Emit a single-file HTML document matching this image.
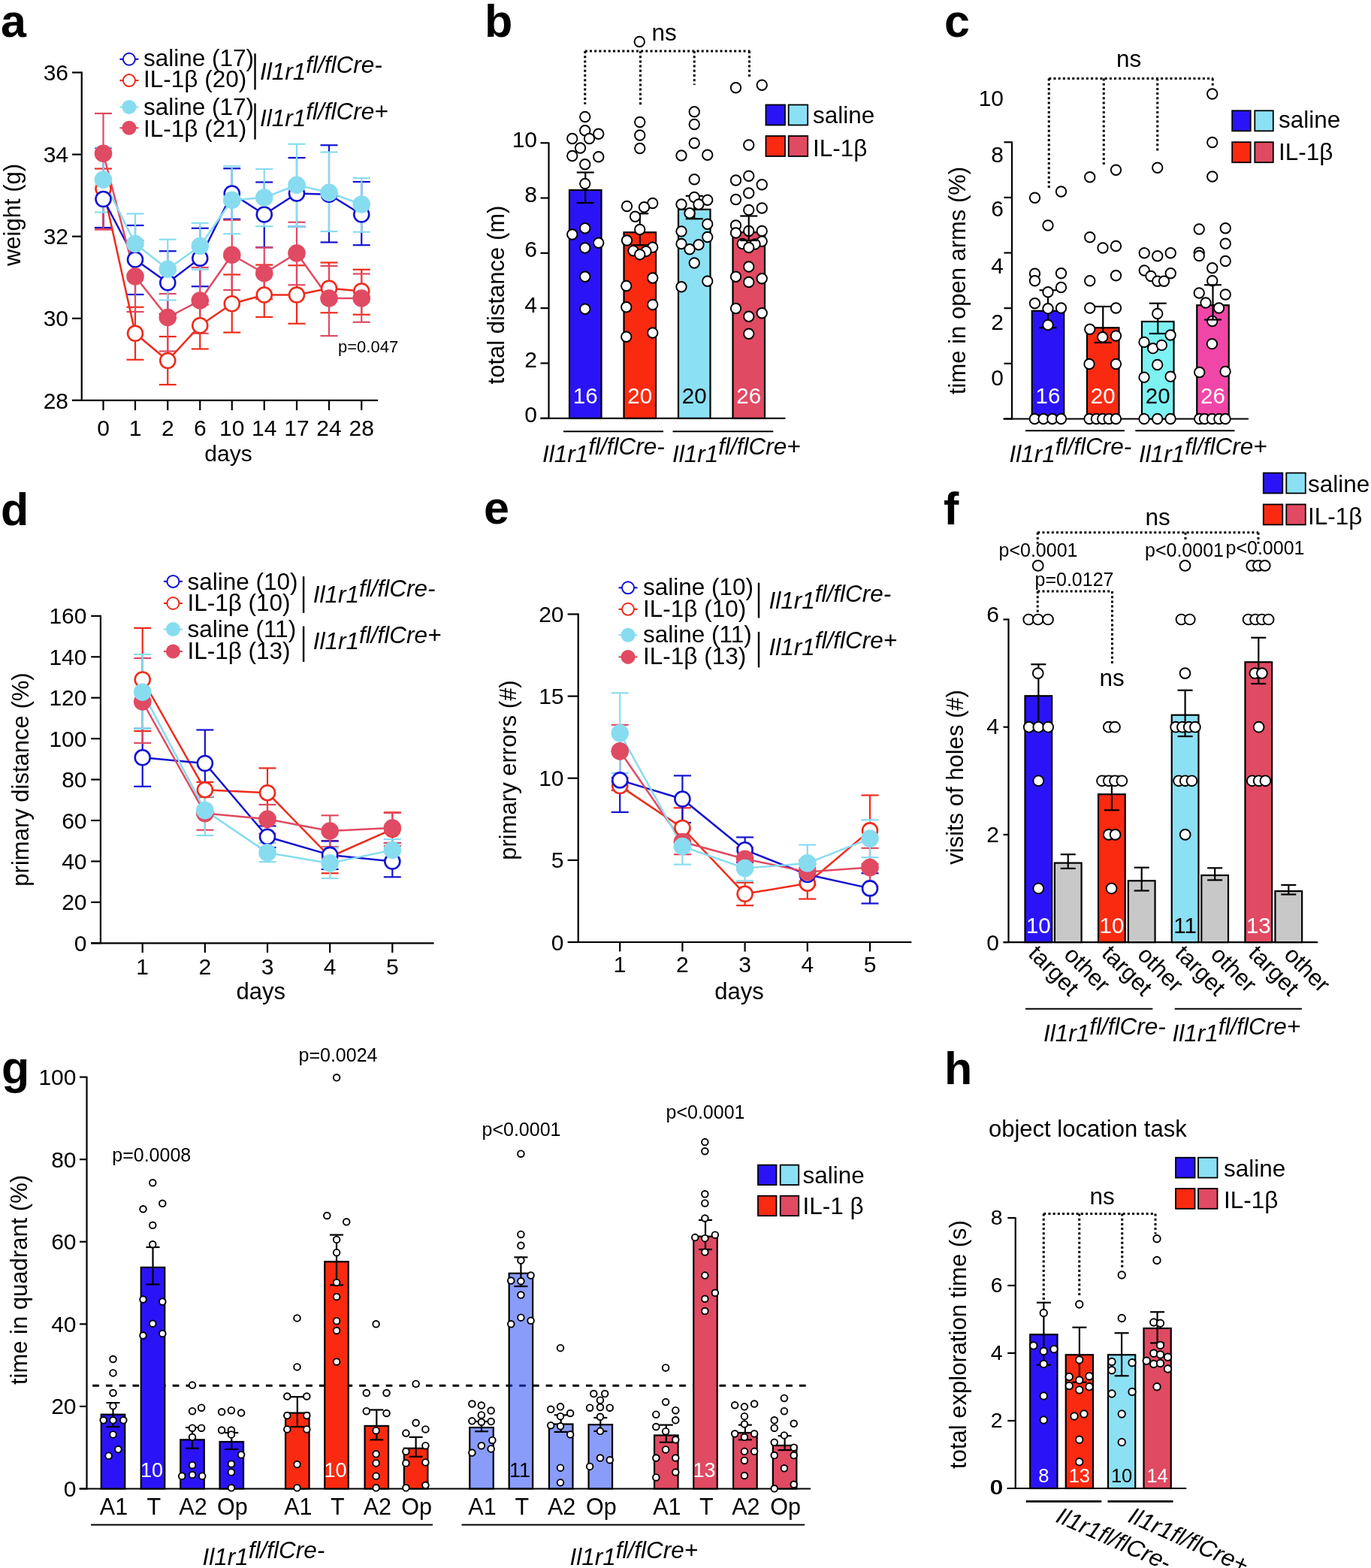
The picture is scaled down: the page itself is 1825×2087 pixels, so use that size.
<!DOCTYPE html>
<html><head><meta charset="utf-8"><title>figure</title>
<style>
html,body{margin:0;padding:0;background:#fff;}
svg{display:block;}
text{font-family:"Liberation Sans",Arial,Helvetica,sans-serif;}
</style></head><body>
<svg width="1825" height="2087" viewBox="0 0 1825 2087">
<rect width="1825" height="2087" fill="#fff"/>
<text x="1" y="48.5" font-size="61" font-weight="bold">a</text>
<line x1="108.75" y1="95.5" x2="108.75" y2="534" stroke="#000" stroke-width="2.2"/>
<line x1="96" y1="532.9" x2="503" y2="532.9" stroke="#000" stroke-width="2.2"/>
<line x1="96" y1="96.5" x2="108.75" y2="96.5" stroke="#000" stroke-width="2.2"/>
<text x="91" y="107.1" font-size="30" text-anchor="end">36</text>
<line x1="96" y1="205.6" x2="108.75" y2="205.6" stroke="#000" stroke-width="2.2"/>
<text x="91" y="216.2" font-size="30" text-anchor="end">34</text>
<line x1="96" y1="314.7" x2="108.75" y2="314.7" stroke="#000" stroke-width="2.2"/>
<text x="91" y="325.3" font-size="30" text-anchor="end">32</text>
<line x1="96" y1="423.8" x2="108.75" y2="423.8" stroke="#000" stroke-width="2.2"/>
<text x="91" y="434.4" font-size="30" text-anchor="end">30</text>
<line x1="96" y1="532.9" x2="108.75" y2="532.9" stroke="#000" stroke-width="2.2"/>
<text x="91" y="543.5" font-size="30" text-anchor="end">28</text>
<line x1="137.5" y1="532.9" x2="137.5" y2="546" stroke="#000" stroke-width="2.2"/>
<text x="137.5" y="580" font-size="30" text-anchor="middle">0</text>
<line x1="180" y1="532.9" x2="180" y2="546" stroke="#000" stroke-width="2.2"/>
<text x="180" y="580" font-size="30" text-anchor="middle">1</text>
<line x1="223.25" y1="532.9" x2="223.25" y2="546" stroke="#000" stroke-width="2.2"/>
<text x="223.25" y="580" font-size="30" text-anchor="middle">2</text>
<line x1="266.25" y1="532.9" x2="266.25" y2="546" stroke="#000" stroke-width="2.2"/>
<text x="266.25" y="580" font-size="30" text-anchor="middle">6</text>
<line x1="308.75" y1="532.9" x2="308.75" y2="546" stroke="#000" stroke-width="2.2"/>
<text x="308.75" y="580" font-size="30" text-anchor="middle">10</text>
<line x1="351.75" y1="532.9" x2="351.75" y2="546" stroke="#000" stroke-width="2.2"/>
<text x="351.75" y="580" font-size="30" text-anchor="middle">14</text>
<line x1="395" y1="532.9" x2="395" y2="546" stroke="#000" stroke-width="2.2"/>
<text x="395" y="580" font-size="30" text-anchor="middle">17</text>
<line x1="438" y1="532.9" x2="438" y2="546" stroke="#000" stroke-width="2.2"/>
<text x="438" y="580" font-size="30" text-anchor="middle">24</text>
<line x1="481.25" y1="532.9" x2="481.25" y2="546" stroke="#000" stroke-width="2.2"/>
<text x="481.25" y="580" font-size="30" text-anchor="middle">28</text>
<text x="304" y="614" font-size="30" text-anchor="middle">days</text>
<text x="27" y="286" font-size="31" text-anchor="middle" transform="rotate(-90 27 286)">weight (g)</text>
<text x="450" y="468.75" font-size="22">p=0.047</text>
<line x1="137.5" y1="224.5" x2="137.5" y2="305.5" stroke="#ee2c1c" stroke-width="2.2"/>
<line x1="126" y1="224.5" x2="149" y2="224.5" stroke="#ee2c1c" stroke-width="2.2"/>
<line x1="126" y1="305.5" x2="149" y2="305.5" stroke="#ee2c1c" stroke-width="2.2"/>
<line x1="180" y1="408.75" x2="180" y2="478.75" stroke="#ee2c1c" stroke-width="2.2"/>
<line x1="168.5" y1="408.75" x2="191.5" y2="408.75" stroke="#ee2c1c" stroke-width="2.2"/>
<line x1="168.5" y1="478.75" x2="191.5" y2="478.75" stroke="#ee2c1c" stroke-width="2.2"/>
<line x1="223.25" y1="448" x2="223.25" y2="512" stroke="#ee2c1c" stroke-width="2.2"/>
<line x1="211.75" y1="448" x2="234.75" y2="448" stroke="#ee2c1c" stroke-width="2.2"/>
<line x1="211.75" y1="512" x2="234.75" y2="512" stroke="#ee2c1c" stroke-width="2.2"/>
<line x1="266.25" y1="405.5" x2="266.25" y2="464.5" stroke="#ee2c1c" stroke-width="2.2"/>
<line x1="254.75" y1="405.5" x2="277.75" y2="405.5" stroke="#ee2c1c" stroke-width="2.2"/>
<line x1="254.75" y1="464.5" x2="277.75" y2="464.5" stroke="#ee2c1c" stroke-width="2.2"/>
<line x1="308.75" y1="365.5" x2="308.75" y2="442.5" stroke="#ee2c1c" stroke-width="2.2"/>
<line x1="297.25" y1="365.5" x2="320.25" y2="365.5" stroke="#ee2c1c" stroke-width="2.2"/>
<line x1="297.25" y1="442.5" x2="320.25" y2="442.5" stroke="#ee2c1c" stroke-width="2.2"/>
<line x1="351.75" y1="352.5" x2="351.75" y2="422" stroke="#ee2c1c" stroke-width="2.2"/>
<line x1="340.25" y1="352.5" x2="363.25" y2="352.5" stroke="#ee2c1c" stroke-width="2.2"/>
<line x1="340.25" y1="422" x2="363.25" y2="422" stroke="#ee2c1c" stroke-width="2.2"/>
<line x1="395" y1="353.25" x2="395" y2="430.75" stroke="#ee2c1c" stroke-width="2.2"/>
<line x1="383.5" y1="353.25" x2="406.5" y2="353.25" stroke="#ee2c1c" stroke-width="2.2"/>
<line x1="383.5" y1="430.75" x2="406.5" y2="430.75" stroke="#ee2c1c" stroke-width="2.2"/>
<line x1="438" y1="349.5" x2="438" y2="416.25" stroke="#ee2c1c" stroke-width="2.2"/>
<line x1="426.5" y1="349.5" x2="449.5" y2="349.5" stroke="#ee2c1c" stroke-width="2.2"/>
<line x1="426.5" y1="416.25" x2="449.5" y2="416.25" stroke="#ee2c1c" stroke-width="2.2"/>
<line x1="481.25" y1="358.75" x2="481.25" y2="418.75" stroke="#ee2c1c" stroke-width="2.2"/>
<line x1="469.75" y1="358.75" x2="492.75" y2="358.75" stroke="#ee2c1c" stroke-width="2.2"/>
<line x1="469.75" y1="418.75" x2="492.75" y2="418.75" stroke="#ee2c1c" stroke-width="2.2"/>
<line x1="137.5" y1="197" x2="137.5" y2="303" stroke="#1212d2" stroke-width="2.2"/>
<line x1="126" y1="197" x2="149" y2="197" stroke="#1212d2" stroke-width="2.2"/>
<line x1="126" y1="303" x2="149" y2="303" stroke="#1212d2" stroke-width="2.2"/>
<line x1="180" y1="300" x2="180" y2="392" stroke="#1212d2" stroke-width="2.2"/>
<line x1="168.5" y1="300" x2="191.5" y2="300" stroke="#1212d2" stroke-width="2.2"/>
<line x1="168.5" y1="392" x2="191.5" y2="392" stroke="#1212d2" stroke-width="2.2"/>
<line x1="223.25" y1="334.25" x2="223.25" y2="418" stroke="#1212d2" stroke-width="2.2"/>
<line x1="211.75" y1="334.25" x2="234.75" y2="334.25" stroke="#1212d2" stroke-width="2.2"/>
<line x1="211.75" y1="418" x2="234.75" y2="418" stroke="#1212d2" stroke-width="2.2"/>
<line x1="266.25" y1="303.75" x2="266.25" y2="381.25" stroke="#1212d2" stroke-width="2.2"/>
<line x1="254.75" y1="303.75" x2="277.75" y2="303.75" stroke="#1212d2" stroke-width="2.2"/>
<line x1="254.75" y1="381.25" x2="277.75" y2="381.25" stroke="#1212d2" stroke-width="2.2"/>
<line x1="308.75" y1="224.25" x2="308.75" y2="291.75" stroke="#1212d2" stroke-width="2.2"/>
<line x1="297.25" y1="224.25" x2="320.25" y2="224.25" stroke="#1212d2" stroke-width="2.2"/>
<line x1="297.25" y1="291.75" x2="320.25" y2="291.75" stroke="#1212d2" stroke-width="2.2"/>
<line x1="351.75" y1="242.5" x2="351.75" y2="329.25" stroke="#1212d2" stroke-width="2.2"/>
<line x1="340.25" y1="242.5" x2="363.25" y2="242.5" stroke="#1212d2" stroke-width="2.2"/>
<line x1="340.25" y1="329.25" x2="363.25" y2="329.25" stroke="#1212d2" stroke-width="2.2"/>
<line x1="395" y1="210" x2="395" y2="301.75" stroke="#1212d2" stroke-width="2.2"/>
<line x1="383.5" y1="210" x2="406.5" y2="210" stroke="#1212d2" stroke-width="2.2"/>
<line x1="383.5" y1="301.75" x2="406.5" y2="301.75" stroke="#1212d2" stroke-width="2.2"/>
<line x1="438" y1="193.25" x2="438" y2="322.5" stroke="#1212d2" stroke-width="2.2"/>
<line x1="426.5" y1="193.25" x2="449.5" y2="193.25" stroke="#1212d2" stroke-width="2.2"/>
<line x1="426.5" y1="322.5" x2="449.5" y2="322.5" stroke="#1212d2" stroke-width="2.2"/>
<line x1="481.25" y1="242" x2="481.25" y2="326.25" stroke="#1212d2" stroke-width="2.2"/>
<line x1="469.75" y1="242" x2="492.75" y2="242" stroke="#1212d2" stroke-width="2.2"/>
<line x1="469.75" y1="326.25" x2="492.75" y2="326.25" stroke="#1212d2" stroke-width="2.2"/>
<line x1="137.5" y1="151" x2="137.5" y2="305" stroke="#e04a62" stroke-width="2.2"/>
<line x1="126" y1="151" x2="149" y2="151" stroke="#e04a62" stroke-width="2.2"/>
<line x1="126" y1="305" x2="149" y2="305" stroke="#e04a62" stroke-width="2.2"/>
<line x1="180" y1="320" x2="180" y2="415" stroke="#e04a62" stroke-width="2.2"/>
<line x1="168.5" y1="320" x2="191.5" y2="320" stroke="#e04a62" stroke-width="2.2"/>
<line x1="168.5" y1="415" x2="191.5" y2="415" stroke="#e04a62" stroke-width="2.2"/>
<line x1="223.25" y1="391" x2="223.25" y2="467.5" stroke="#e04a62" stroke-width="2.2"/>
<line x1="211.75" y1="391" x2="234.75" y2="391" stroke="#e04a62" stroke-width="2.2"/>
<line x1="211.75" y1="467.5" x2="234.75" y2="467.5" stroke="#e04a62" stroke-width="2.2"/>
<line x1="266.25" y1="356" x2="266.25" y2="443.75" stroke="#e04a62" stroke-width="2.2"/>
<line x1="254.75" y1="356" x2="277.75" y2="356" stroke="#e04a62" stroke-width="2.2"/>
<line x1="254.75" y1="443.75" x2="277.75" y2="443.75" stroke="#e04a62" stroke-width="2.2"/>
<line x1="308.75" y1="293" x2="308.75" y2="386" stroke="#e04a62" stroke-width="2.2"/>
<line x1="297.25" y1="293" x2="320.25" y2="293" stroke="#e04a62" stroke-width="2.2"/>
<line x1="297.25" y1="386" x2="320.25" y2="386" stroke="#e04a62" stroke-width="2.2"/>
<line x1="351.75" y1="329.5" x2="351.75" y2="398" stroke="#e04a62" stroke-width="2.2"/>
<line x1="340.25" y1="329.5" x2="363.25" y2="329.5" stroke="#e04a62" stroke-width="2.2"/>
<line x1="340.25" y1="398" x2="363.25" y2="398" stroke="#e04a62" stroke-width="2.2"/>
<line x1="395" y1="295.75" x2="395" y2="379.25" stroke="#e04a62" stroke-width="2.2"/>
<line x1="383.5" y1="295.75" x2="406.5" y2="295.75" stroke="#e04a62" stroke-width="2.2"/>
<line x1="383.5" y1="379.25" x2="406.5" y2="379.25" stroke="#e04a62" stroke-width="2.2"/>
<line x1="438" y1="354" x2="438" y2="447" stroke="#e04a62" stroke-width="2.2"/>
<line x1="426.5" y1="354" x2="449.5" y2="354" stroke="#e04a62" stroke-width="2.2"/>
<line x1="426.5" y1="447" x2="449.5" y2="447" stroke="#e04a62" stroke-width="2.2"/>
<line x1="481.25" y1="364.5" x2="481.25" y2="428.75" stroke="#e04a62" stroke-width="2.2"/>
<line x1="469.75" y1="364.5" x2="492.75" y2="364.5" stroke="#e04a62" stroke-width="2.2"/>
<line x1="469.75" y1="428.75" x2="492.75" y2="428.75" stroke="#e04a62" stroke-width="2.2"/>
<line x1="137.5" y1="196.25" x2="137.5" y2="282.5" stroke="#88dcf0" stroke-width="2.2"/>
<line x1="126" y1="196.25" x2="149" y2="196.25" stroke="#88dcf0" stroke-width="2.2"/>
<line x1="126" y1="282.5" x2="149" y2="282.5" stroke="#88dcf0" stroke-width="2.2"/>
<line x1="180" y1="284.5" x2="180" y2="365" stroke="#88dcf0" stroke-width="2.2"/>
<line x1="168.5" y1="284.5" x2="191.5" y2="284.5" stroke="#88dcf0" stroke-width="2.2"/>
<line x1="168.5" y1="365" x2="191.5" y2="365" stroke="#88dcf0" stroke-width="2.2"/>
<line x1="223.25" y1="318.75" x2="223.25" y2="399.5" stroke="#88dcf0" stroke-width="2.2"/>
<line x1="211.75" y1="318.75" x2="234.75" y2="318.75" stroke="#88dcf0" stroke-width="2.2"/>
<line x1="211.75" y1="399.5" x2="234.75" y2="399.5" stroke="#88dcf0" stroke-width="2.2"/>
<line x1="266.25" y1="296.75" x2="266.25" y2="358.75" stroke="#88dcf0" stroke-width="2.2"/>
<line x1="254.75" y1="296.75" x2="277.75" y2="296.75" stroke="#88dcf0" stroke-width="2.2"/>
<line x1="254.75" y1="358.75" x2="277.75" y2="358.75" stroke="#88dcf0" stroke-width="2.2"/>
<line x1="308.75" y1="221.25" x2="308.75" y2="311.25" stroke="#88dcf0" stroke-width="2.2"/>
<line x1="297.25" y1="221.25" x2="320.25" y2="221.25" stroke="#88dcf0" stroke-width="2.2"/>
<line x1="297.25" y1="311.25" x2="320.25" y2="311.25" stroke="#88dcf0" stroke-width="2.2"/>
<line x1="351.75" y1="225" x2="351.75" y2="301.25" stroke="#88dcf0" stroke-width="2.2"/>
<line x1="340.25" y1="225" x2="363.25" y2="225" stroke="#88dcf0" stroke-width="2.2"/>
<line x1="340.25" y1="301.25" x2="363.25" y2="301.25" stroke="#88dcf0" stroke-width="2.2"/>
<line x1="395" y1="191.75" x2="395" y2="301.75" stroke="#88dcf0" stroke-width="2.2"/>
<line x1="383.5" y1="191.75" x2="406.5" y2="191.75" stroke="#88dcf0" stroke-width="2.2"/>
<line x1="383.5" y1="301.75" x2="406.5" y2="301.75" stroke="#88dcf0" stroke-width="2.2"/>
<line x1="438" y1="202.5" x2="438" y2="308" stroke="#88dcf0" stroke-width="2.2"/>
<line x1="426.5" y1="202.5" x2="449.5" y2="202.5" stroke="#88dcf0" stroke-width="2.2"/>
<line x1="426.5" y1="308" x2="449.5" y2="308" stroke="#88dcf0" stroke-width="2.2"/>
<line x1="481.25" y1="237" x2="481.25" y2="308.75" stroke="#88dcf0" stroke-width="2.2"/>
<line x1="469.75" y1="237" x2="492.75" y2="237" stroke="#88dcf0" stroke-width="2.2"/>
<line x1="469.75" y1="308.75" x2="492.75" y2="308.75" stroke="#88dcf0" stroke-width="2.2"/>
<polyline points="137.5,251.25 180,443.75 223.25,480 266.25,433.25 308.75,404.25 351.75,392.5 395,392.5 438,383.75 481.25,387.5" fill="none" stroke="#ee2c1c" stroke-width="2.5" stroke-linejoin="round"/>
<polyline points="137.5,265 180,345.5 223.25,376.25 266.25,343.75 308.75,257.5 351.75,285.5 395,257.5 438,258.75 481.25,285.5" fill="none" stroke="#1212d2" stroke-width="2.5" stroke-linejoin="round"/>
<polyline points="137.5,204.25 180,368 223.25,422.5 266.25,400 308.75,339.25 351.75,363.75 395,337 438,397 481.25,397" fill="none" stroke="#e04a62" stroke-width="2.5" stroke-linejoin="round"/>
<polyline points="137.5,239.25 180,324.5 223.25,358.25 266.25,327.5 308.75,266.25 351.75,263 395,246.25 438,256.25 481.25,272" fill="none" stroke="#88dcf0" stroke-width="2.5" stroke-linejoin="round"/>
<circle cx="137.5" cy="251.25" r="10" fill="#fff" stroke="#ee2c1c" stroke-width="2.6"/>
<circle cx="180" cy="443.75" r="10" fill="#fff" stroke="#ee2c1c" stroke-width="2.6"/>
<circle cx="223.25" cy="480" r="10" fill="#fff" stroke="#ee2c1c" stroke-width="2.6"/>
<circle cx="266.25" cy="433.25" r="10" fill="#fff" stroke="#ee2c1c" stroke-width="2.6"/>
<circle cx="308.75" cy="404.25" r="10" fill="#fff" stroke="#ee2c1c" stroke-width="2.6"/>
<circle cx="351.75" cy="392.5" r="10" fill="#fff" stroke="#ee2c1c" stroke-width="2.6"/>
<circle cx="395" cy="392.5" r="10" fill="#fff" stroke="#ee2c1c" stroke-width="2.6"/>
<circle cx="438" cy="383.75" r="10" fill="#fff" stroke="#ee2c1c" stroke-width="2.6"/>
<circle cx="481.25" cy="387.5" r="10" fill="#fff" stroke="#ee2c1c" stroke-width="2.6"/>
<circle cx="137.5" cy="265" r="10" fill="#fff" stroke="#1212d2" stroke-width="2.6"/>
<circle cx="180" cy="345.5" r="10" fill="#fff" stroke="#1212d2" stroke-width="2.6"/>
<circle cx="223.25" cy="376.25" r="10" fill="#fff" stroke="#1212d2" stroke-width="2.6"/>
<circle cx="266.25" cy="343.75" r="10" fill="#fff" stroke="#1212d2" stroke-width="2.6"/>
<circle cx="308.75" cy="257.5" r="10" fill="#fff" stroke="#1212d2" stroke-width="2.6"/>
<circle cx="351.75" cy="285.5" r="10" fill="#fff" stroke="#1212d2" stroke-width="2.6"/>
<circle cx="395" cy="257.5" r="10" fill="#fff" stroke="#1212d2" stroke-width="2.6"/>
<circle cx="438" cy="258.75" r="10" fill="#fff" stroke="#1212d2" stroke-width="2.6"/>
<circle cx="481.25" cy="285.5" r="10" fill="#fff" stroke="#1212d2" stroke-width="2.6"/>
<circle cx="137.5" cy="204.25" r="11.8" fill="#e04a62"/>
<circle cx="180" cy="368" r="11.8" fill="#e04a62"/>
<circle cx="223.25" cy="422.5" r="11.8" fill="#e04a62"/>
<circle cx="266.25" cy="400" r="11.8" fill="#e04a62"/>
<circle cx="308.75" cy="339.25" r="11.8" fill="#e04a62"/>
<circle cx="351.75" cy="363.75" r="11.8" fill="#e04a62"/>
<circle cx="395" cy="337" r="11.8" fill="#e04a62"/>
<circle cx="438" cy="397" r="11.8" fill="#e04a62"/>
<circle cx="481.25" cy="397" r="11.8" fill="#e04a62"/>
<circle cx="137.5" cy="239.25" r="11.8" fill="#88dcf0"/>
<circle cx="180" cy="324.5" r="11.8" fill="#88dcf0"/>
<circle cx="223.25" cy="358.25" r="11.8" fill="#88dcf0"/>
<circle cx="266.25" cy="327.5" r="11.8" fill="#88dcf0"/>
<circle cx="308.75" cy="266.25" r="11.8" fill="#88dcf0"/>
<circle cx="351.75" cy="263" r="11.8" fill="#88dcf0"/>
<circle cx="395" cy="246.25" r="11.8" fill="#88dcf0"/>
<circle cx="438" cy="256.25" r="11.8" fill="#88dcf0"/>
<circle cx="481.25" cy="272" r="11.8" fill="#88dcf0"/>
<line x1="159.4" y1="78.75" x2="184.4" y2="78.75" stroke="#1212d2" stroke-width="2.2"/>
<circle cx="171.9" cy="78.75" r="8" fill="#fff" stroke="#1212d2" stroke-width="2"/>
<text x="191" y="87.5" font-size="31.5">saline (17)</text>
<line x1="159.4" y1="107.1" x2="184.4" y2="107.1" stroke="#ee2c1c" stroke-width="2.2"/>
<circle cx="171.9" cy="107.1" r="8" fill="#fff" stroke="#ee2c1c" stroke-width="2"/>
<text x="191" y="116.25" font-size="31.5">IL-1β (20)</text>
<line x1="159.4" y1="142.5" x2="184.4" y2="142.5" stroke="#88dcf0" stroke-width="2.2"/>
<circle cx="171.9" cy="142.5" r="9.5" fill="#88dcf0"/>
<text x="191" y="152.5" font-size="31.5">saline (17)</text>
<line x1="159.4" y1="170.25" x2="184.4" y2="170.25" stroke="#e04a62" stroke-width="2.2"/>
<circle cx="171.9" cy="170.25" r="9.5" fill="#e04a62"/>
<text x="191" y="181.5" font-size="31.5">IL-1β (21)</text>
<line x1="339.5" y1="71.25" x2="339.5" y2="119.4" stroke="#000" stroke-width="2.4"/>
<line x1="339.5" y1="137.5" x2="339.5" y2="185.6" stroke="#000" stroke-width="2.4"/>
<text x="346" y="106" font-size="31.5" font-style="italic">Il1r1<tspan dy="-9.5" font-size="31.5">fl/flCre-</tspan></text>
<text x="346" y="168.2" font-size="31.5" font-style="italic">Il1r1<tspan dy="-9.5" font-size="31.5">fl/flCre+</tspan></text>
<text x="645" y="48.5" font-size="61" font-weight="bold">b</text>
<line x1="730.5" y1="189.5" x2="730.5" y2="557.75" stroke="#000" stroke-width="2.2"/>
<line x1="719.5" y1="556.75" x2="1045.5" y2="556.75" stroke="#000" stroke-width="2.2"/>
<line x1="719.5" y1="556.75" x2="730.5" y2="556.75" stroke="#000" stroke-width="2.2"/>
<text x="715" y="562.25" font-size="30" text-anchor="end">0</text>
<line x1="719.5" y1="483.45" x2="730.5" y2="483.45" stroke="#000" stroke-width="2.2"/>
<text x="715" y="488.95" font-size="30" text-anchor="end">2</text>
<line x1="719.5" y1="410.15" x2="730.5" y2="410.15" stroke="#000" stroke-width="2.2"/>
<text x="715" y="415.65" font-size="30" text-anchor="end">4</text>
<line x1="719.5" y1="336.85" x2="730.5" y2="336.85" stroke="#000" stroke-width="2.2"/>
<text x="715" y="342.35" font-size="30" text-anchor="end">6</text>
<line x1="719.5" y1="263.55" x2="730.5" y2="263.55" stroke="#000" stroke-width="2.2"/>
<text x="715" y="269.05" font-size="30" text-anchor="end">8</text>
<line x1="719.5" y1="190.25" x2="730.5" y2="190.25" stroke="#000" stroke-width="2.2"/>
<text x="715" y="195.75" font-size="30" text-anchor="end">10</text>
<text x="671" y="392.5" font-size="31" text-anchor="middle" transform="rotate(-90 671 392.5)">total distance (m)</text>
<rect x="758" y="253" width="42.5" height="303.75" fill="#2a14f7" stroke="#000" stroke-width="2.2"/>
<rect x="830.5" y="309.25" width="42.5" height="247.5" fill="#fa2a10" stroke="#000" stroke-width="2.2"/>
<rect x="903" y="278.75" width="42.5" height="278" fill="#8ce0f4" stroke="#000" stroke-width="2.2"/>
<rect x="975.5" y="309.25" width="42.5" height="247.5" fill="#e04a62" stroke="#000" stroke-width="2.2"/>
<line x1="779.25" y1="229.5" x2="779.25" y2="270" stroke="#000" stroke-width="2.2"/>
<line x1="767.75" y1="229.5" x2="790.75" y2="229.5" stroke="#000" stroke-width="2.2"/>
<line x1="767.75" y1="270" x2="790.75" y2="270" stroke="#000" stroke-width="2.2"/>
<line x1="851.75" y1="284.25" x2="851.75" y2="326.25" stroke="#000" stroke-width="2.2"/>
<line x1="840.25" y1="284.25" x2="863.25" y2="284.25" stroke="#000" stroke-width="2.2"/>
<line x1="840.25" y1="326.25" x2="863.25" y2="326.25" stroke="#000" stroke-width="2.2"/>
<line x1="924.25" y1="260.75" x2="924.25" y2="291.25" stroke="#000" stroke-width="2.2"/>
<line x1="912.75" y1="260.75" x2="935.75" y2="260.75" stroke="#000" stroke-width="2.2"/>
<line x1="912.75" y1="291.25" x2="935.75" y2="291.25" stroke="#000" stroke-width="2.2"/>
<circle cx="778.75" cy="155.5" r="6.7" fill="#fff" stroke="#000" stroke-width="1.9"/>
<circle cx="778.75" cy="173.75" r="6.7" fill="#fff" stroke="#000" stroke-width="1.9"/>
<circle cx="761.75" cy="184.5" r="6.7" fill="#fff" stroke="#000" stroke-width="1.9"/>
<circle cx="784.5" cy="184.5" r="6.7" fill="#fff" stroke="#000" stroke-width="1.9"/>
<circle cx="796.75" cy="178.25" r="6.7" fill="#fff" stroke="#000" stroke-width="1.9"/>
<circle cx="772.5" cy="197" r="6.7" fill="#fff" stroke="#000" stroke-width="1.9"/>
<circle cx="761.75" cy="207.5" r="6.7" fill="#fff" stroke="#000" stroke-width="1.9"/>
<circle cx="796.75" cy="208.75" r="6.7" fill="#fff" stroke="#000" stroke-width="1.9"/>
<circle cx="778.75" cy="218.75" r="6.7" fill="#fff" stroke="#000" stroke-width="1.9"/>
<circle cx="778.75" cy="244.5" r="6.7" fill="#fff" stroke="#000" stroke-width="1.9"/>
<circle cx="778.75" cy="303.75" r="6.7" fill="#fff" stroke="#000" stroke-width="1.9"/>
<circle cx="761.75" cy="312" r="6.7" fill="#fff" stroke="#000" stroke-width="1.9"/>
<circle cx="796.75" cy="323.25" r="6.7" fill="#fff" stroke="#000" stroke-width="1.9"/>
<circle cx="778.75" cy="330" r="6.7" fill="#fff" stroke="#000" stroke-width="1.9"/>
<circle cx="778.75" cy="368.25" r="6.7" fill="#fff" stroke="#000" stroke-width="1.9"/>
<circle cx="778.75" cy="411.25" r="6.7" fill="#fff" stroke="#000" stroke-width="1.9"/>
<circle cx="851.25" cy="55.5" r="6.7" fill="#fff" stroke="#000" stroke-width="1.9"/>
<circle cx="851.75" cy="162.5" r="6.7" fill="#fff" stroke="#000" stroke-width="1.9"/>
<circle cx="851.75" cy="180" r="6.7" fill="#fff" stroke="#000" stroke-width="1.9"/>
<circle cx="851.75" cy="197.5" r="6.7" fill="#fff" stroke="#000" stroke-width="1.9"/>
<circle cx="834.5" cy="274.5" r="6.7" fill="#fff" stroke="#000" stroke-width="1.9"/>
<circle cx="868.75" cy="270.5" r="6.7" fill="#fff" stroke="#000" stroke-width="1.9"/>
<circle cx="857.5" cy="275.75" r="6.7" fill="#fff" stroke="#000" stroke-width="1.9"/>
<circle cx="845.5" cy="288.25" r="6.7" fill="#fff" stroke="#000" stroke-width="1.9"/>
<circle cx="851.75" cy="305.5" r="6.7" fill="#fff" stroke="#000" stroke-width="1.9"/>
<circle cx="834.5" cy="320" r="6.7" fill="#fff" stroke="#000" stroke-width="1.9"/>
<circle cx="868.75" cy="329.25" r="6.7" fill="#fff" stroke="#000" stroke-width="1.9"/>
<circle cx="843" cy="333.75" r="6.7" fill="#fff" stroke="#000" stroke-width="1.9"/>
<circle cx="860" cy="334.5" r="6.7" fill="#fff" stroke="#000" stroke-width="1.9"/>
<circle cx="851.75" cy="338.75" r="6.7" fill="#fff" stroke="#000" stroke-width="1.9"/>
<circle cx="833.75" cy="380.5" r="6.7" fill="#fff" stroke="#000" stroke-width="1.9"/>
<circle cx="868.75" cy="370" r="6.7" fill="#fff" stroke="#000" stroke-width="1.9"/>
<circle cx="833.75" cy="408.75" r="6.7" fill="#fff" stroke="#000" stroke-width="1.9"/>
<circle cx="868.75" cy="405.5" r="6.7" fill="#fff" stroke="#000" stroke-width="1.9"/>
<circle cx="833.75" cy="448.25" r="6.7" fill="#fff" stroke="#000" stroke-width="1.9"/>
<circle cx="868.75" cy="443" r="6.7" fill="#fff" stroke="#000" stroke-width="1.9"/>
<circle cx="924.25" cy="148.75" r="6.7" fill="#fff" stroke="#000" stroke-width="1.9"/>
<circle cx="924.25" cy="165.5" r="6.7" fill="#fff" stroke="#000" stroke-width="1.9"/>
<circle cx="924.25" cy="190.5" r="6.7" fill="#fff" stroke="#000" stroke-width="1.9"/>
<circle cx="907" cy="207" r="6.7" fill="#fff" stroke="#000" stroke-width="1.9"/>
<circle cx="941.75" cy="206.25" r="6.7" fill="#fff" stroke="#000" stroke-width="1.9"/>
<circle cx="924.25" cy="238.75" r="6.7" fill="#fff" stroke="#000" stroke-width="1.9"/>
<circle cx="924.25" cy="262.5" r="6.7" fill="#fff" stroke="#000" stroke-width="1.9"/>
<circle cx="907" cy="272" r="6.7" fill="#fff" stroke="#000" stroke-width="1.9"/>
<circle cx="941.75" cy="266.25" r="6.7" fill="#fff" stroke="#000" stroke-width="1.9"/>
<circle cx="930" cy="272" r="6.7" fill="#fff" stroke="#000" stroke-width="1.9"/>
<circle cx="918" cy="283.75" r="6.7" fill="#fff" stroke="#000" stroke-width="1.9"/>
<circle cx="941.75" cy="298.25" r="6.7" fill="#fff" stroke="#000" stroke-width="1.9"/>
<circle cx="907" cy="308" r="6.7" fill="#fff" stroke="#000" stroke-width="1.9"/>
<circle cx="941.75" cy="315.5" r="6.7" fill="#fff" stroke="#000" stroke-width="1.9"/>
<circle cx="907" cy="324.5" r="6.7" fill="#fff" stroke="#000" stroke-width="1.9"/>
<circle cx="930" cy="325.75" r="6.7" fill="#fff" stroke="#000" stroke-width="1.9"/>
<circle cx="918" cy="331.75" r="6.7" fill="#fff" stroke="#000" stroke-width="1.9"/>
<circle cx="924.25" cy="350" r="6.7" fill="#fff" stroke="#000" stroke-width="1.9"/>
<circle cx="941.75" cy="374.25" r="6.7" fill="#fff" stroke="#000" stroke-width="1.9"/>
<circle cx="907" cy="381.75" r="6.7" fill="#fff" stroke="#000" stroke-width="1.9"/>
<circle cx="979.5" cy="116.75" r="6.7" fill="#fff" stroke="#000" stroke-width="1.9"/>
<circle cx="1014.25" cy="113.25" r="6.7" fill="#fff" stroke="#000" stroke-width="1.9"/>
<circle cx="996.75" cy="193" r="6.7" fill="#fff" stroke="#000" stroke-width="1.9"/>
<circle cx="996.75" cy="234.25" r="6.7" fill="#fff" stroke="#000" stroke-width="1.9"/>
<circle cx="979.5" cy="240" r="6.7" fill="#fff" stroke="#000" stroke-width="1.9"/>
<circle cx="1014.25" cy="245.75" r="6.7" fill="#fff" stroke="#000" stroke-width="1.9"/>
<circle cx="996.75" cy="257" r="6.7" fill="#fff" stroke="#000" stroke-width="1.9"/>
<circle cx="979.5" cy="265.5" r="6.7" fill="#fff" stroke="#000" stroke-width="1.9"/>
<circle cx="1014.25" cy="277" r="6.7" fill="#fff" stroke="#000" stroke-width="1.9"/>
<circle cx="996.75" cy="279.5" r="6.7" fill="#fff" stroke="#000" stroke-width="1.9"/>
<circle cx="979.5" cy="300" r="6.7" fill="#fff" stroke="#000" stroke-width="1.9"/>
<circle cx="1014.25" cy="307.5" r="6.7" fill="#fff" stroke="#000" stroke-width="1.9"/>
<circle cx="996.75" cy="307.5" r="6.7" fill="#fff" stroke="#000" stroke-width="1.9"/>
<circle cx="979.5" cy="310" r="6.7" fill="#fff" stroke="#000" stroke-width="1.9"/>
<circle cx="1014.25" cy="321.25" r="6.7" fill="#fff" stroke="#000" stroke-width="1.9"/>
<circle cx="988.25" cy="324.5" r="6.7" fill="#fff" stroke="#000" stroke-width="1.9"/>
<circle cx="1005" cy="325" r="6.7" fill="#fff" stroke="#000" stroke-width="1.9"/>
<circle cx="996.75" cy="329.5" r="6.7" fill="#fff" stroke="#000" stroke-width="1.9"/>
<circle cx="996.75" cy="355" r="6.7" fill="#fff" stroke="#000" stroke-width="1.9"/>
<circle cx="979.5" cy="368.25" r="6.7" fill="#fff" stroke="#000" stroke-width="1.9"/>
<circle cx="1014.25" cy="370.75" r="6.7" fill="#fff" stroke="#000" stroke-width="1.9"/>
<circle cx="996.75" cy="375.5" r="6.7" fill="#fff" stroke="#000" stroke-width="1.9"/>
<circle cx="979.5" cy="410.5" r="6.7" fill="#fff" stroke="#000" stroke-width="1.9"/>
<circle cx="1014.25" cy="416.75" r="6.7" fill="#fff" stroke="#000" stroke-width="1.9"/>
<circle cx="996.75" cy="421.25" r="6.7" fill="#fff" stroke="#000" stroke-width="1.9"/>
<circle cx="996.75" cy="444.25" r="6.7" fill="#fff" stroke="#000" stroke-width="1.9"/>
<line x1="996.75" y1="287.5" x2="996.75" y2="320" stroke="#000" stroke-width="2.2"/>
<line x1="985.25" y1="287.5" x2="1008.25" y2="287.5" stroke="#000" stroke-width="2.2"/>
<line x1="985.25" y1="320" x2="1008.25" y2="320" stroke="#000" stroke-width="2.2"/>
<text x="779.25" y="536.75" font-size="29.5" text-anchor="middle" fill="#fff">16</text>
<text x="851.75" y="536.75" font-size="29.5" text-anchor="middle" fill="#fff">20</text>
<text x="924.25" y="536.75" font-size="29.5" text-anchor="middle">20</text>
<text x="996.75" y="536.75" font-size="29.5" text-anchor="middle" fill="#fff">26</text>
<line x1="778.75" y1="68" x2="998.25" y2="68" stroke="#000" stroke-width="3" stroke-dasharray="3,3.2"/>
<line x1="778.75" y1="68" x2="778.75" y2="138.75" stroke="#000" stroke-width="3" stroke-dasharray="3,3.2"/>
<line x1="852.5" y1="68" x2="852.5" y2="141.75" stroke="#000" stroke-width="3" stroke-dasharray="3,3.2"/>
<line x1="924.25" y1="68" x2="924.25" y2="113" stroke="#000" stroke-width="3" stroke-dasharray="3,3.2"/>
<line x1="997.5" y1="68" x2="997.5" y2="103.75" stroke="#000" stroke-width="3" stroke-dasharray="3,3.2"/>
<text x="867.5" y="53.75" font-size="31.5">ns</text>
<line x1="750" y1="574.25" x2="883" y2="574.25" stroke="#000" stroke-width="2"/>
<line x1="895.5" y1="574.25" x2="1029.25" y2="574.25" stroke="#000" stroke-width="2"/>
<text x="722" y="614.5" font-size="31.5" font-style="italic">Il1r1<tspan dy="-9.5" font-size="31.5">fl/flCre-</tspan></text>
<text x="895" y="614.5" font-size="31.5" font-style="italic">Il1r1<tspan dy="-9.5" font-size="31.5">fl/flCre+</tspan></text>
<rect x="1019.5" y="139.5" width="25.5" height="27" fill="#2a14f7" stroke="#000" stroke-width="1.8"/>
<rect x="1049.7" y="139.5" width="25.5" height="27" fill="#8ce0f4" stroke="#000" stroke-width="1.8"/>
<rect x="1019.5" y="181" width="25.5" height="27" fill="#fa2a10" stroke="#000" stroke-width="1.8"/>
<rect x="1049.7" y="181" width="25.5" height="27" fill="#e04a62" stroke="#000" stroke-width="1.8"/>
<text x="1082" y="164.3" font-size="31.5">saline</text>
<text x="1082" y="208" font-size="31.5">IL-1β</text>
<text x="1257" y="48.5" font-size="61" font-weight="bold">c</text>
<line x1="1347" y1="188.25" x2="1347" y2="558.5" stroke="#000" stroke-width="2.2"/>
<line x1="1335.5" y1="557.5" x2="1662" y2="557.5" stroke="#000" stroke-width="2.2"/>
<line x1="1336.5" y1="189.25" x2="1347" y2="189.25" stroke="#000" stroke-width="2.2"/>
<line x1="1336.5" y1="262.9" x2="1347" y2="262.9" stroke="#000" stroke-width="2.2"/>
<line x1="1336.5" y1="336.55" x2="1347" y2="336.55" stroke="#000" stroke-width="2.2"/>
<line x1="1336.5" y1="410.2" x2="1347" y2="410.2" stroke="#000" stroke-width="2.2"/>
<line x1="1336.5" y1="483.85" x2="1347" y2="483.85" stroke="#000" stroke-width="2.2"/>
<line x1="1336.5" y1="557.5" x2="1347" y2="557.5" stroke="#000" stroke-width="2.2"/>
<text x="1336" y="141.3" font-size="30" text-anchor="end">10</text>
<text x="1336" y="215.9" font-size="30" text-anchor="end">8</text>
<text x="1336" y="287.8" font-size="30" text-anchor="end">6</text>
<text x="1336" y="364.1" font-size="30" text-anchor="end">4</text>
<text x="1336" y="438.7" font-size="30" text-anchor="end">2</text>
<text x="1336" y="513.4" font-size="30" text-anchor="end">0</text>
<text x="1285.5" y="373.4" font-size="31" text-anchor="middle" transform="rotate(-90 1285.5 373.4)">time in open arms (%)</text>
<rect x="1373.75" y="413.75" width="42.5" height="143.75" fill="#2a14f7" stroke="#000" stroke-width="2.2"/>
<rect x="1447" y="436.25" width="42.5" height="121.25" fill="#fa2a10" stroke="#000" stroke-width="2.2"/>
<rect x="1520" y="428" width="42.5" height="129.5" fill="#7cf2f2" stroke="#000" stroke-width="2.2"/>
<rect x="1593.25" y="406.25" width="42.5" height="151.25" fill="#f046a8" stroke="#000" stroke-width="2.2"/>
<line x1="1395" y1="386.25" x2="1395" y2="436.25" stroke="#000" stroke-width="2.2"/>
<line x1="1383.5" y1="386.25" x2="1406.5" y2="386.25" stroke="#000" stroke-width="2.2"/>
<line x1="1383.5" y1="436.25" x2="1406.5" y2="436.25" stroke="#000" stroke-width="2.2"/>
<line x1="1468.25" y1="408" x2="1468.25" y2="456" stroke="#000" stroke-width="2.2"/>
<line x1="1456.75" y1="408" x2="1479.75" y2="408" stroke="#000" stroke-width="2.2"/>
<line x1="1456.75" y1="456" x2="1479.75" y2="456" stroke="#000" stroke-width="2.2"/>
<line x1="1541.25" y1="403.75" x2="1541.25" y2="444" stroke="#000" stroke-width="2.2"/>
<line x1="1529.75" y1="403.75" x2="1552.75" y2="403.75" stroke="#000" stroke-width="2.2"/>
<line x1="1529.75" y1="444" x2="1552.75" y2="444" stroke="#000" stroke-width="2.2"/>
<circle cx="1377.5" cy="263.25" r="6.7" fill="#fff" stroke="#000" stroke-width="1.9"/>
<circle cx="1412.5" cy="255" r="6.7" fill="#fff" stroke="#000" stroke-width="1.9"/>
<circle cx="1395" cy="300" r="6.7" fill="#fff" stroke="#000" stroke-width="1.9"/>
<circle cx="1377.5" cy="364.25" r="6.7" fill="#fff" stroke="#000" stroke-width="1.9"/>
<circle cx="1377.5" cy="373.75" r="6.7" fill="#fff" stroke="#000" stroke-width="1.9"/>
<circle cx="1412.5" cy="363.75" r="6.7" fill="#fff" stroke="#000" stroke-width="1.9"/>
<circle cx="1412.5" cy="382.5" r="6.7" fill="#fff" stroke="#000" stroke-width="1.9"/>
<circle cx="1395" cy="388.75" r="6.7" fill="#fff" stroke="#000" stroke-width="1.9"/>
<circle cx="1377.5" cy="403.75" r="6.7" fill="#fff" stroke="#000" stroke-width="1.9"/>
<circle cx="1395" cy="410.75" r="6.7" fill="#fff" stroke="#000" stroke-width="1.9"/>
<circle cx="1412.5" cy="410" r="6.7" fill="#fff" stroke="#000" stroke-width="1.9"/>
<circle cx="1395" cy="432.5" r="6.7" fill="#fff" stroke="#000" stroke-width="1.9"/>
<circle cx="1377.3" cy="557.5" r="6.7" fill="#fff" stroke="#000" stroke-width="1.9"/>
<circle cx="1389" cy="557.5" r="6.7" fill="#fff" stroke="#000" stroke-width="1.9"/>
<circle cx="1400.8" cy="557.5" r="6.7" fill="#fff" stroke="#000" stroke-width="1.9"/>
<circle cx="1412.5" cy="557.5" r="6.7" fill="#fff" stroke="#000" stroke-width="1.9"/>
<circle cx="1450.75" cy="235.75" r="6.7" fill="#fff" stroke="#000" stroke-width="1.9"/>
<circle cx="1485.5" cy="226.25" r="6.7" fill="#fff" stroke="#000" stroke-width="1.9"/>
<circle cx="1450.75" cy="315.75" r="6.7" fill="#fff" stroke="#000" stroke-width="1.9"/>
<circle cx="1468" cy="330" r="6.7" fill="#fff" stroke="#000" stroke-width="1.9"/>
<circle cx="1485.5" cy="327.5" r="6.7" fill="#fff" stroke="#000" stroke-width="1.9"/>
<circle cx="1450.75" cy="373.75" r="6.7" fill="#fff" stroke="#000" stroke-width="1.9"/>
<circle cx="1485.5" cy="366.75" r="6.7" fill="#fff" stroke="#000" stroke-width="1.9"/>
<circle cx="1450.75" cy="410" r="6.7" fill="#fff" stroke="#000" stroke-width="1.9"/>
<circle cx="1485.5" cy="410" r="6.7" fill="#fff" stroke="#000" stroke-width="1.9"/>
<circle cx="1450.75" cy="438.25" r="6.7" fill="#fff" stroke="#000" stroke-width="1.9"/>
<circle cx="1467.7" cy="448.7" r="6.7" fill="#fff" stroke="#000" stroke-width="1.9"/>
<circle cx="1485.5" cy="447" r="6.7" fill="#fff" stroke="#000" stroke-width="1.9"/>
<circle cx="1450" cy="484.5" r="6.7" fill="#fff" stroke="#000" stroke-width="1.9"/>
<circle cx="1485.5" cy="484.5" r="6.7" fill="#fff" stroke="#000" stroke-width="1.9"/>
<circle cx="1450" cy="557.5" r="6.7" fill="#fff" stroke="#000" stroke-width="1.9"/>
<circle cx="1459.4" cy="557.5" r="6.7" fill="#fff" stroke="#000" stroke-width="1.9"/>
<circle cx="1467.7" cy="557.5" r="6.7" fill="#fff" stroke="#000" stroke-width="1.9"/>
<circle cx="1476.1" cy="557.5" r="6.7" fill="#fff" stroke="#000" stroke-width="1.9"/>
<circle cx="1485.5" cy="557.5" r="6.7" fill="#fff" stroke="#000" stroke-width="1.9"/>
<circle cx="1540.75" cy="223.25" r="6.7" fill="#fff" stroke="#000" stroke-width="1.9"/>
<circle cx="1523.25" cy="336.75" r="6.7" fill="#fff" stroke="#000" stroke-width="1.9"/>
<circle cx="1540.75" cy="340.75" r="6.7" fill="#fff" stroke="#000" stroke-width="1.9"/>
<circle cx="1558.25" cy="336.75" r="6.7" fill="#fff" stroke="#000" stroke-width="1.9"/>
<circle cx="1523.25" cy="360" r="6.7" fill="#fff" stroke="#000" stroke-width="1.9"/>
<circle cx="1532" cy="367.5" r="6.7" fill="#fff" stroke="#000" stroke-width="1.9"/>
<circle cx="1540.75" cy="374.25" r="6.7" fill="#fff" stroke="#000" stroke-width="1.9"/>
<circle cx="1549.5" cy="374.25" r="6.7" fill="#fff" stroke="#000" stroke-width="1.9"/>
<circle cx="1558.25" cy="363.75" r="6.7" fill="#fff" stroke="#000" stroke-width="1.9"/>
<circle cx="1540.75" cy="417.5" r="6.7" fill="#fff" stroke="#000" stroke-width="1.9"/>
<circle cx="1558.1" cy="446" r="6.7" fill="#fff" stroke="#000" stroke-width="1.9"/>
<circle cx="1523" cy="455.4" r="6.7" fill="#fff" stroke="#000" stroke-width="1.9"/>
<circle cx="1534.7" cy="463.7" r="6.7" fill="#fff" stroke="#000" stroke-width="1.9"/>
<circle cx="1546.4" cy="459.4" r="6.7" fill="#fff" stroke="#000" stroke-width="1.9"/>
<circle cx="1540.7" cy="485.5" r="6.7" fill="#fff" stroke="#000" stroke-width="1.9"/>
<circle cx="1523" cy="502.2" r="6.7" fill="#fff" stroke="#000" stroke-width="1.9"/>
<circle cx="1558.1" cy="501.2" r="6.7" fill="#fff" stroke="#000" stroke-width="1.9"/>
<circle cx="1523" cy="557.5" r="6.7" fill="#fff" stroke="#000" stroke-width="1.9"/>
<circle cx="1540.7" cy="557.5" r="6.7" fill="#fff" stroke="#000" stroke-width="1.9"/>
<circle cx="1558.1" cy="557.5" r="6.7" fill="#fff" stroke="#000" stroke-width="1.9"/>
<circle cx="1613.75" cy="125" r="6.7" fill="#fff" stroke="#000" stroke-width="1.9"/>
<circle cx="1613.75" cy="189.5" r="6.7" fill="#fff" stroke="#000" stroke-width="1.9"/>
<circle cx="1613.75" cy="235" r="6.7" fill="#fff" stroke="#000" stroke-width="1.9"/>
<circle cx="1596.25" cy="305" r="6.7" fill="#fff" stroke="#000" stroke-width="1.9"/>
<circle cx="1631.25" cy="303.75" r="6.7" fill="#fff" stroke="#000" stroke-width="1.9"/>
<circle cx="1631.25" cy="324.25" r="6.7" fill="#fff" stroke="#000" stroke-width="1.9"/>
<circle cx="1596.25" cy="336.25" r="6.7" fill="#fff" stroke="#000" stroke-width="1.9"/>
<circle cx="1596.25" cy="340.5" r="6.7" fill="#fff" stroke="#000" stroke-width="1.9"/>
<circle cx="1631.25" cy="347.5" r="6.7" fill="#fff" stroke="#000" stroke-width="1.9"/>
<circle cx="1613.75" cy="356.75" r="6.7" fill="#fff" stroke="#000" stroke-width="1.9"/>
<circle cx="1613.75" cy="373.75" r="6.7" fill="#fff" stroke="#000" stroke-width="1.9"/>
<circle cx="1596.25" cy="390" r="6.7" fill="#fff" stroke="#000" stroke-width="1.9"/>
<circle cx="1631.25" cy="392" r="6.7" fill="#fff" stroke="#000" stroke-width="1.9"/>
<circle cx="1605" cy="403" r="6.7" fill="#fff" stroke="#000" stroke-width="1.9"/>
<circle cx="1622.5" cy="410" r="6.7" fill="#fff" stroke="#000" stroke-width="1.9"/>
<circle cx="1613.75" cy="427.5" r="6.7" fill="#fff" stroke="#000" stroke-width="1.9"/>
<circle cx="1613.4" cy="457.7" r="6.7" fill="#fff" stroke="#000" stroke-width="1.9"/>
<circle cx="1596.7" cy="495.5" r="6.7" fill="#fff" stroke="#000" stroke-width="1.9"/>
<circle cx="1631.1" cy="494.5" r="6.7" fill="#fff" stroke="#000" stroke-width="1.9"/>
<circle cx="1596.7" cy="557.5" r="6.7" fill="#fff" stroke="#000" stroke-width="1.9"/>
<circle cx="1603.4" cy="557.5" r="6.7" fill="#fff" stroke="#000" stroke-width="1.9"/>
<circle cx="1613.4" cy="557.5" r="6.7" fill="#fff" stroke="#000" stroke-width="1.9"/>
<circle cx="1622.8" cy="557.5" r="6.7" fill="#fff" stroke="#000" stroke-width="1.9"/>
<circle cx="1631.1" cy="557.5" r="6.7" fill="#fff" stroke="#000" stroke-width="1.9"/>
<line x1="1614.5" y1="379.25" x2="1614.5" y2="425.5" stroke="#000" stroke-width="2.2"/>
<line x1="1603" y1="379.25" x2="1626" y2="379.25" stroke="#000" stroke-width="2.2"/>
<line x1="1603" y1="425.5" x2="1626" y2="425.5" stroke="#000" stroke-width="2.2"/>
<text x="1395" y="537.4" font-size="29.5" text-anchor="middle" fill="#fff">16</text>
<text x="1468.25" y="537.4" font-size="29.5" text-anchor="middle" fill="#fff">20</text>
<text x="1541.25" y="537.4" font-size="29.5" text-anchor="middle">20</text>
<text x="1614.5" y="537.4" font-size="29.5" text-anchor="middle" fill="#fff">26</text>
<line x1="1396.25" y1="104.5" x2="1615" y2="104.5" stroke="#000" stroke-width="3" stroke-dasharray="3,3.2"/>
<line x1="1396.25" y1="104.5" x2="1396.25" y2="252.5" stroke="#000" stroke-width="3" stroke-dasharray="3,3.2"/>
<line x1="1469.25" y1="104.5" x2="1469.25" y2="221.25" stroke="#000" stroke-width="3" stroke-dasharray="3,3.2"/>
<line x1="1540.75" y1="104.5" x2="1540.75" y2="202" stroke="#000" stroke-width="3" stroke-dasharray="3,3.2"/>
<line x1="1614.25" y1="104.5" x2="1614.25" y2="113.75" stroke="#000" stroke-width="3" stroke-dasharray="3,3.2"/>
<text x="1486" y="88.75" font-size="31.5">ns</text>
<line x1="1365" y1="573.2" x2="1497" y2="573.2" stroke="#000" stroke-width="2"/>
<line x1="1511.3" y1="573.2" x2="1643.5" y2="573.2" stroke="#000" stroke-width="2"/>
<text x="1343.5" y="614.5" font-size="31.5" font-style="italic">Il1r1<tspan dy="-9.5" font-size="31.5">fl/flCre-</tspan></text>
<text x="1516" y="614.5" font-size="31.5" font-style="italic">Il1r1<tspan dy="-9.5" font-size="31.5">fl/flCre+</tspan></text>
<rect x="1640.2" y="147.3" width="24.5" height="27" fill="#2a14f7" stroke="#000" stroke-width="1.8"/>
<rect x="1670.3" y="147.3" width="24.5" height="27" fill="#8ce0f4" stroke="#000" stroke-width="1.8"/>
<rect x="1640.2" y="189.2" width="24.5" height="27" fill="#fa2a10" stroke="#000" stroke-width="1.8"/>
<rect x="1670.3" y="189.2" width="24.5" height="27" fill="#e04a62" stroke="#000" stroke-width="1.8"/>
<text x="1702" y="169.5" font-size="31.5">saline</text>
<text x="1702" y="212.6" font-size="31.5">IL-1β</text>
<text x="1" y="698.5" font-size="61" font-weight="bold">d</text>
<line x1="133.9" y1="818.8" x2="133.9" y2="1256.3" stroke="#000" stroke-width="2.2"/>
<line x1="121.2" y1="1255.3" x2="577.6" y2="1255.3" stroke="#000" stroke-width="2.2"/>
<line x1="121.2" y1="1255.3" x2="133.9" y2="1255.3" stroke="#000" stroke-width="2.2"/>
<text x="115.5" y="1265.8" font-size="30" text-anchor="end">0</text>
<line x1="121.2" y1="1200.87" x2="133.9" y2="1200.87" stroke="#000" stroke-width="2.2"/>
<text x="115.5" y="1211.37" font-size="30" text-anchor="end">20</text>
<line x1="121.2" y1="1146.44" x2="133.9" y2="1146.44" stroke="#000" stroke-width="2.2"/>
<text x="115.5" y="1156.94" font-size="30" text-anchor="end">40</text>
<line x1="121.2" y1="1092.01" x2="133.9" y2="1092.01" stroke="#000" stroke-width="2.2"/>
<text x="115.5" y="1102.51" font-size="30" text-anchor="end">60</text>
<line x1="121.2" y1="1037.58" x2="133.9" y2="1037.58" stroke="#000" stroke-width="2.2"/>
<text x="115.5" y="1048.08" font-size="30" text-anchor="end">80</text>
<line x1="121.2" y1="983.15" x2="133.9" y2="983.15" stroke="#000" stroke-width="2.2"/>
<text x="115.5" y="993.65" font-size="30" text-anchor="end">100</text>
<line x1="121.2" y1="928.72" x2="133.9" y2="928.72" stroke="#000" stroke-width="2.2"/>
<text x="115.5" y="939.22" font-size="30" text-anchor="end">120</text>
<line x1="121.2" y1="874.29" x2="133.9" y2="874.29" stroke="#000" stroke-width="2.2"/>
<text x="115.5" y="884.79" font-size="30" text-anchor="end">140</text>
<line x1="121.2" y1="819.86" x2="133.9" y2="819.86" stroke="#000" stroke-width="2.2"/>
<text x="115.5" y="830.36" font-size="30" text-anchor="end">160</text>
<line x1="189.7" y1="1255.3" x2="189.7" y2="1268" stroke="#000" stroke-width="2.2"/>
<text x="189.7" y="1296.5" font-size="30" text-anchor="middle">1</text>
<line x1="272.85" y1="1255.3" x2="272.85" y2="1268" stroke="#000" stroke-width="2.2"/>
<text x="272.85" y="1296.5" font-size="30" text-anchor="middle">2</text>
<line x1="356" y1="1255.3" x2="356" y2="1268" stroke="#000" stroke-width="2.2"/>
<text x="356" y="1296.5" font-size="30" text-anchor="middle">3</text>
<line x1="439.15" y1="1255.3" x2="439.15" y2="1268" stroke="#000" stroke-width="2.2"/>
<text x="439.15" y="1296.5" font-size="30" text-anchor="middle">4</text>
<line x1="522.3" y1="1255.3" x2="522.3" y2="1268" stroke="#000" stroke-width="2.2"/>
<text x="522.3" y="1296.5" font-size="30" text-anchor="middle">5</text>
<text x="347.3" y="1329.8" font-size="31" text-anchor="middle">days</text>
<text x="38" y="1037.5" font-size="31" text-anchor="middle" transform="rotate(-90 38 1037.5)">primary distance (%)</text>
<line x1="189.7" y1="835.9" x2="189.7" y2="973.1" stroke="#ee2c1c" stroke-width="2.2"/>
<line x1="178.2" y1="835.9" x2="201.2" y2="835.9" stroke="#ee2c1c" stroke-width="2.2"/>
<line x1="178.2" y1="973.1" x2="201.2" y2="973.1" stroke="#ee2c1c" stroke-width="2.2"/>
<line x1="272.85" y1="1041" x2="272.85" y2="1061" stroke="#ee2c1c" stroke-width="2.2"/>
<line x1="261.35" y1="1041" x2="284.35" y2="1041" stroke="#ee2c1c" stroke-width="2.2"/>
<line x1="261.35" y1="1061" x2="284.35" y2="1061" stroke="#ee2c1c" stroke-width="2.2"/>
<line x1="356" y1="1022.4" x2="356" y2="1088" stroke="#ee2c1c" stroke-width="2.2"/>
<line x1="344.5" y1="1022.4" x2="367.5" y2="1022.4" stroke="#ee2c1c" stroke-width="2.2"/>
<line x1="344.5" y1="1088" x2="367.5" y2="1088" stroke="#ee2c1c" stroke-width="2.2"/>
<line x1="439.15" y1="1119" x2="439.15" y2="1162.3" stroke="#ee2c1c" stroke-width="2.2"/>
<line x1="427.65" y1="1119" x2="450.65" y2="1119" stroke="#ee2c1c" stroke-width="2.2"/>
<line x1="427.65" y1="1162.3" x2="450.65" y2="1162.3" stroke="#ee2c1c" stroke-width="2.2"/>
<line x1="522.3" y1="1081.3" x2="522.3" y2="1126" stroke="#ee2c1c" stroke-width="2.2"/>
<line x1="510.8" y1="1081.3" x2="533.8" y2="1081.3" stroke="#ee2c1c" stroke-width="2.2"/>
<line x1="510.8" y1="1126" x2="533.8" y2="1126" stroke="#ee2c1c" stroke-width="2.2"/>
<line x1="189.7" y1="969.8" x2="189.7" y2="1046.8" stroke="#1212d2" stroke-width="2.2"/>
<line x1="178.2" y1="969.8" x2="201.2" y2="969.8" stroke="#1212d2" stroke-width="2.2"/>
<line x1="178.2" y1="1046.8" x2="201.2" y2="1046.8" stroke="#1212d2" stroke-width="2.2"/>
<line x1="272.85" y1="971.5" x2="272.85" y2="1060" stroke="#1212d2" stroke-width="2.2"/>
<line x1="261.35" y1="971.5" x2="284.35" y2="971.5" stroke="#1212d2" stroke-width="2.2"/>
<line x1="261.35" y1="1060" x2="284.35" y2="1060" stroke="#1212d2" stroke-width="2.2"/>
<line x1="356" y1="1099.4" x2="356" y2="1128" stroke="#1212d2" stroke-width="2.2"/>
<line x1="344.5" y1="1099.4" x2="367.5" y2="1099.4" stroke="#1212d2" stroke-width="2.2"/>
<line x1="344.5" y1="1128" x2="367.5" y2="1128" stroke="#1212d2" stroke-width="2.2"/>
<line x1="439.15" y1="1119.5" x2="439.15" y2="1157" stroke="#1212d2" stroke-width="2.2"/>
<line x1="427.65" y1="1119.5" x2="450.65" y2="1119.5" stroke="#1212d2" stroke-width="2.2"/>
<line x1="427.65" y1="1157" x2="450.65" y2="1157" stroke="#1212d2" stroke-width="2.2"/>
<line x1="522.3" y1="1122" x2="522.3" y2="1167.3" stroke="#1212d2" stroke-width="2.2"/>
<line x1="510.8" y1="1122" x2="533.8" y2="1122" stroke="#1212d2" stroke-width="2.2"/>
<line x1="510.8" y1="1167.3" x2="533.8" y2="1167.3" stroke="#1212d2" stroke-width="2.2"/>
<line x1="189.7" y1="876" x2="189.7" y2="988.9" stroke="#e04a62" stroke-width="2.2"/>
<line x1="178.2" y1="876" x2="201.2" y2="876" stroke="#e04a62" stroke-width="2.2"/>
<line x1="178.2" y1="988.9" x2="201.2" y2="988.9" stroke="#e04a62" stroke-width="2.2"/>
<line x1="272.85" y1="1060.5" x2="272.85" y2="1104.7" stroke="#e04a62" stroke-width="2.2"/>
<line x1="261.35" y1="1060.5" x2="284.35" y2="1060.5" stroke="#e04a62" stroke-width="2.2"/>
<line x1="261.35" y1="1104.7" x2="284.35" y2="1104.7" stroke="#e04a62" stroke-width="2.2"/>
<line x1="356" y1="1071" x2="356" y2="1109.6" stroke="#e04a62" stroke-width="2.2"/>
<line x1="344.5" y1="1071" x2="367.5" y2="1071" stroke="#e04a62" stroke-width="2.2"/>
<line x1="344.5" y1="1109.6" x2="367.5" y2="1109.6" stroke="#e04a62" stroke-width="2.2"/>
<line x1="439.15" y1="1085.3" x2="439.15" y2="1127" stroke="#e04a62" stroke-width="2.2"/>
<line x1="427.65" y1="1085.3" x2="450.65" y2="1085.3" stroke="#e04a62" stroke-width="2.2"/>
<line x1="427.65" y1="1127" x2="450.65" y2="1127" stroke="#e04a62" stroke-width="2.2"/>
<line x1="522.3" y1="1082" x2="522.3" y2="1122" stroke="#e04a62" stroke-width="2.2"/>
<line x1="510.8" y1="1082" x2="533.8" y2="1082" stroke="#e04a62" stroke-width="2.2"/>
<line x1="510.8" y1="1122" x2="533.8" y2="1122" stroke="#e04a62" stroke-width="2.2"/>
<line x1="189.7" y1="871" x2="189.7" y2="969.8" stroke="#88dcf0" stroke-width="2.2"/>
<line x1="178.2" y1="871" x2="201.2" y2="871" stroke="#88dcf0" stroke-width="2.2"/>
<line x1="178.2" y1="969.8" x2="201.2" y2="969.8" stroke="#88dcf0" stroke-width="2.2"/>
<line x1="272.85" y1="1060" x2="272.85" y2="1112" stroke="#88dcf0" stroke-width="2.2"/>
<line x1="261.35" y1="1060" x2="284.35" y2="1060" stroke="#88dcf0" stroke-width="2.2"/>
<line x1="261.35" y1="1112" x2="284.35" y2="1112" stroke="#88dcf0" stroke-width="2.2"/>
<line x1="356" y1="1122" x2="356" y2="1147.2" stroke="#88dcf0" stroke-width="2.2"/>
<line x1="344.5" y1="1122" x2="367.5" y2="1122" stroke="#88dcf0" stroke-width="2.2"/>
<line x1="344.5" y1="1147.2" x2="367.5" y2="1147.2" stroke="#88dcf0" stroke-width="2.2"/>
<line x1="439.15" y1="1128.5" x2="439.15" y2="1169" stroke="#88dcf0" stroke-width="2.2"/>
<line x1="427.65" y1="1128.5" x2="450.65" y2="1128.5" stroke="#88dcf0" stroke-width="2.2"/>
<line x1="427.65" y1="1169" x2="450.65" y2="1169" stroke="#88dcf0" stroke-width="2.2"/>
<line x1="522.3" y1="1117" x2="522.3" y2="1146" stroke="#88dcf0" stroke-width="2.2"/>
<line x1="510.8" y1="1117" x2="533.8" y2="1117" stroke="#88dcf0" stroke-width="2.2"/>
<line x1="510.8" y1="1146" x2="533.8" y2="1146" stroke="#88dcf0" stroke-width="2.2"/>
<polyline points="189.7,904.5 272.85,1051.2 356,1055.2 439.15,1140.5 522.3,1103.7" fill="none" stroke="#ee2c1c" stroke-width="2.5" stroke-linejoin="round"/>
<polyline points="189.7,1008.3 272.85,1016 356,1113.8 439.15,1137.9 522.3,1146.6" fill="none" stroke="#1212d2" stroke-width="2.5" stroke-linejoin="round"/>
<polyline points="189.7,934 272.85,1082.6 356,1090.3 439.15,1106 522.3,1102" fill="none" stroke="#e04a62" stroke-width="2.5" stroke-linejoin="round"/>
<polyline points="189.7,921.2 272.85,1078.6 356,1134.9 439.15,1148.9 522.3,1131.5" fill="none" stroke="#88dcf0" stroke-width="2.5" stroke-linejoin="round"/>
<circle cx="189.7" cy="904.5" r="10" fill="#fff" stroke="#ee2c1c" stroke-width="2.6"/>
<circle cx="272.85" cy="1051.2" r="10" fill="#fff" stroke="#ee2c1c" stroke-width="2.6"/>
<circle cx="356" cy="1055.2" r="10" fill="#fff" stroke="#ee2c1c" stroke-width="2.6"/>
<circle cx="439.15" cy="1140.5" r="10" fill="#fff" stroke="#ee2c1c" stroke-width="2.6"/>
<circle cx="522.3" cy="1103.7" r="10" fill="#fff" stroke="#ee2c1c" stroke-width="2.6"/>
<circle cx="189.7" cy="1008.3" r="10" fill="#fff" stroke="#1212d2" stroke-width="2.6"/>
<circle cx="272.85" cy="1016" r="10" fill="#fff" stroke="#1212d2" stroke-width="2.6"/>
<circle cx="356" cy="1113.8" r="10" fill="#fff" stroke="#1212d2" stroke-width="2.6"/>
<circle cx="439.15" cy="1137.9" r="10" fill="#fff" stroke="#1212d2" stroke-width="2.6"/>
<circle cx="522.3" cy="1146.6" r="10" fill="#fff" stroke="#1212d2" stroke-width="2.6"/>
<circle cx="189.7" cy="934" r="11.8" fill="#e04a62"/>
<circle cx="272.85" cy="1082.6" r="11.8" fill="#e04a62"/>
<circle cx="356" cy="1090.3" r="11.8" fill="#e04a62"/>
<circle cx="439.15" cy="1106" r="11.8" fill="#e04a62"/>
<circle cx="522.3" cy="1102" r="11.8" fill="#e04a62"/>
<circle cx="189.7" cy="921.2" r="11.8" fill="#88dcf0"/>
<circle cx="272.85" cy="1078.6" r="11.8" fill="#88dcf0"/>
<circle cx="356" cy="1134.9" r="11.8" fill="#88dcf0"/>
<circle cx="439.15" cy="1148.9" r="11.8" fill="#88dcf0"/>
<circle cx="522.3" cy="1131.5" r="11.8" fill="#88dcf0"/>
<line x1="217.9" y1="773.9" x2="242.9" y2="773.9" stroke="#1212d2" stroke-width="2.2"/>
<circle cx="230.4" cy="773.9" r="8" fill="#fff" stroke="#1212d2" stroke-width="2"/>
<text x="249.4" y="784.5" font-size="31.5">saline (10)</text>
<line x1="217.9" y1="803" x2="242.9" y2="803" stroke="#ee2c1c" stroke-width="2.2"/>
<circle cx="230.4" cy="803" r="8" fill="#fff" stroke="#ee2c1c" stroke-width="2"/>
<text x="249.4" y="813" font-size="31.5">IL-1β (10)</text>
<line x1="217.9" y1="837.5" x2="242.9" y2="837.5" stroke="#88dcf0" stroke-width="2.2"/>
<circle cx="230.4" cy="837.5" r="9.5" fill="#88dcf0"/>
<text x="249.4" y="848" font-size="31.5">saline (11)</text>
<line x1="217.9" y1="867" x2="242.9" y2="867" stroke="#e04a62" stroke-width="2.2"/>
<circle cx="230.4" cy="867" r="9.5" fill="#e04a62"/>
<text x="249.4" y="877" font-size="31.5">IL-1β (13)</text>
<line x1="404.1" y1="767.2" x2="404.1" y2="815.8" stroke="#000" stroke-width="2.4"/>
<line x1="404.1" y1="833.5" x2="404.1" y2="881" stroke="#000" stroke-width="2.4"/>
<text x="416.8" y="802" font-size="31.5" font-style="italic">Il1r1<tspan dy="-8.5" font-size="31.5">fl/flCre-</tspan></text>
<text x="416.8" y="864" font-size="31.5" font-style="italic">Il1r1<tspan dy="-8.5" font-size="31.5">fl/flCre+</tspan></text>
<text x="644" y="697" font-size="61" font-weight="bold">e</text>
<line x1="769.7" y1="816.5" x2="769.7" y2="1255" stroke="#000" stroke-width="2.2"/>
<line x1="757.7" y1="1254" x2="1213.4" y2="1254" stroke="#000" stroke-width="2.2"/>
<line x1="755.6" y1="1254" x2="769.7" y2="1254" stroke="#000" stroke-width="2.2"/>
<text x="750.5" y="1264.5" font-size="30" text-anchor="end">0</text>
<line x1="755.6" y1="1144.88" x2="769.7" y2="1144.88" stroke="#000" stroke-width="2.2"/>
<text x="750.5" y="1155.38" font-size="30" text-anchor="end">5</text>
<line x1="755.6" y1="1035.75" x2="769.7" y2="1035.75" stroke="#000" stroke-width="2.2"/>
<text x="750.5" y="1046.25" font-size="30" text-anchor="end">10</text>
<line x1="755.6" y1="926.62" x2="769.7" y2="926.62" stroke="#000" stroke-width="2.2"/>
<text x="750.5" y="937.12" font-size="30" text-anchor="end">15</text>
<line x1="755.6" y1="817.5" x2="769.7" y2="817.5" stroke="#000" stroke-width="2.2"/>
<text x="750.5" y="828" font-size="30" text-anchor="end">20</text>
<line x1="825.2" y1="1254" x2="825.2" y2="1266.5" stroke="#000" stroke-width="2.2"/>
<text x="825.2" y="1293.6" font-size="30" text-anchor="middle">1</text>
<line x1="908.4" y1="1254" x2="908.4" y2="1266.5" stroke="#000" stroke-width="2.2"/>
<text x="908.4" y="1293.6" font-size="30" text-anchor="middle">2</text>
<line x1="991.6" y1="1254" x2="991.6" y2="1266.5" stroke="#000" stroke-width="2.2"/>
<text x="991.6" y="1293.6" font-size="30" text-anchor="middle">3</text>
<line x1="1074.8" y1="1254" x2="1074.8" y2="1266.5" stroke="#000" stroke-width="2.2"/>
<text x="1074.8" y="1293.6" font-size="30" text-anchor="middle">4</text>
<line x1="1158" y1="1254" x2="1158" y2="1266.5" stroke="#000" stroke-width="2.2"/>
<text x="1158" y="1293.6" font-size="30" text-anchor="middle">5</text>
<text x="984" y="1329.6" font-size="31" text-anchor="middle">days</text>
<text x="687.3" y="1025" font-size="31" text-anchor="middle" transform="rotate(-90 687.3 1025)">primary errors (#)</text>
<line x1="825.2" y1="1040" x2="825.2" y2="1052" stroke="#ee2c1c" stroke-width="2.2"/>
<line x1="813.7" y1="1040" x2="836.7" y2="1040" stroke="#ee2c1c" stroke-width="2.2"/>
<line x1="813.7" y1="1052" x2="836.7" y2="1052" stroke="#ee2c1c" stroke-width="2.2"/>
<line x1="908.4" y1="1075.3" x2="908.4" y2="1128" stroke="#ee2c1c" stroke-width="2.2"/>
<line x1="896.9" y1="1075.3" x2="919.9" y2="1075.3" stroke="#ee2c1c" stroke-width="2.2"/>
<line x1="896.9" y1="1128" x2="919.9" y2="1128" stroke="#ee2c1c" stroke-width="2.2"/>
<line x1="991.6" y1="1174.7" x2="991.6" y2="1205.2" stroke="#ee2c1c" stroke-width="2.2"/>
<line x1="980.1" y1="1174.7" x2="1003.1" y2="1174.7" stroke="#ee2c1c" stroke-width="2.2"/>
<line x1="980.1" y1="1205.2" x2="1003.1" y2="1205.2" stroke="#ee2c1c" stroke-width="2.2"/>
<line x1="1074.8" y1="1155" x2="1074.8" y2="1196.5" stroke="#ee2c1c" stroke-width="2.2"/>
<line x1="1063.3" y1="1155" x2="1086.3" y2="1155" stroke="#ee2c1c" stroke-width="2.2"/>
<line x1="1063.3" y1="1196.5" x2="1086.3" y2="1196.5" stroke="#ee2c1c" stroke-width="2.2"/>
<line x1="1158" y1="1058.5" x2="1158" y2="1150" stroke="#ee2c1c" stroke-width="2.2"/>
<line x1="1146.5" y1="1058.5" x2="1169.5" y2="1058.5" stroke="#ee2c1c" stroke-width="2.2"/>
<line x1="1146.5" y1="1150" x2="1169.5" y2="1150" stroke="#ee2c1c" stroke-width="2.2"/>
<line x1="825.2" y1="1000" x2="825.2" y2="1081" stroke="#1212d2" stroke-width="2.2"/>
<line x1="813.7" y1="1000" x2="836.7" y2="1000" stroke="#1212d2" stroke-width="2.2"/>
<line x1="813.7" y1="1081" x2="836.7" y2="1081" stroke="#1212d2" stroke-width="2.2"/>
<line x1="908.4" y1="1032.4" x2="908.4" y2="1095" stroke="#1212d2" stroke-width="2.2"/>
<line x1="896.9" y1="1032.4" x2="919.9" y2="1032.4" stroke="#1212d2" stroke-width="2.2"/>
<line x1="896.9" y1="1095" x2="919.9" y2="1095" stroke="#1212d2" stroke-width="2.2"/>
<line x1="991.6" y1="1114.4" x2="991.6" y2="1148" stroke="#1212d2" stroke-width="2.2"/>
<line x1="980.1" y1="1114.4" x2="1003.1" y2="1114.4" stroke="#1212d2" stroke-width="2.2"/>
<line x1="980.1" y1="1148" x2="1003.1" y2="1148" stroke="#1212d2" stroke-width="2.2"/>
<line x1="1074.8" y1="1150" x2="1074.8" y2="1178" stroke="#1212d2" stroke-width="2.2"/>
<line x1="1063.3" y1="1150" x2="1086.3" y2="1150" stroke="#1212d2" stroke-width="2.2"/>
<line x1="1063.3" y1="1178" x2="1086.3" y2="1178" stroke="#1212d2" stroke-width="2.2"/>
<line x1="1158" y1="1162.3" x2="1158" y2="1202.5" stroke="#1212d2" stroke-width="2.2"/>
<line x1="1146.5" y1="1162.3" x2="1169.5" y2="1162.3" stroke="#1212d2" stroke-width="2.2"/>
<line x1="1146.5" y1="1202.5" x2="1169.5" y2="1202.5" stroke="#1212d2" stroke-width="2.2"/>
<line x1="825.2" y1="964.8" x2="825.2" y2="1035" stroke="#e04a62" stroke-width="2.2"/>
<line x1="813.7" y1="964.8" x2="836.7" y2="964.8" stroke="#e04a62" stroke-width="2.2"/>
<line x1="813.7" y1="1035" x2="836.7" y2="1035" stroke="#e04a62" stroke-width="2.2"/>
<line x1="908.4" y1="1104" x2="908.4" y2="1137.2" stroke="#e04a62" stroke-width="2.2"/>
<line x1="896.9" y1="1104" x2="919.9" y2="1104" stroke="#e04a62" stroke-width="2.2"/>
<line x1="896.9" y1="1137.2" x2="919.9" y2="1137.2" stroke="#e04a62" stroke-width="2.2"/>
<line x1="991.6" y1="1128" x2="991.6" y2="1158" stroke="#e04a62" stroke-width="2.2"/>
<line x1="980.1" y1="1128" x2="1003.1" y2="1128" stroke="#e04a62" stroke-width="2.2"/>
<line x1="980.1" y1="1158" x2="1003.1" y2="1158" stroke="#e04a62" stroke-width="2.2"/>
<line x1="1074.8" y1="1145" x2="1074.8" y2="1176" stroke="#e04a62" stroke-width="2.2"/>
<line x1="1063.3" y1="1145" x2="1086.3" y2="1145" stroke="#e04a62" stroke-width="2.2"/>
<line x1="1063.3" y1="1176" x2="1086.3" y2="1176" stroke="#e04a62" stroke-width="2.2"/>
<line x1="1158" y1="1128.8" x2="1158" y2="1180" stroke="#e04a62" stroke-width="2.2"/>
<line x1="1146.5" y1="1128.8" x2="1169.5" y2="1128.8" stroke="#e04a62" stroke-width="2.2"/>
<line x1="1146.5" y1="1180" x2="1169.5" y2="1180" stroke="#e04a62" stroke-width="2.2"/>
<line x1="825.2" y1="922.3" x2="825.2" y2="1029" stroke="#88dcf0" stroke-width="2.2"/>
<line x1="813.7" y1="922.3" x2="836.7" y2="922.3" stroke="#88dcf0" stroke-width="2.2"/>
<line x1="813.7" y1="1029" x2="836.7" y2="1029" stroke="#88dcf0" stroke-width="2.2"/>
<line x1="908.4" y1="1103" x2="908.4" y2="1150.6" stroke="#88dcf0" stroke-width="2.2"/>
<line x1="896.9" y1="1103" x2="919.9" y2="1103" stroke="#88dcf0" stroke-width="2.2"/>
<line x1="896.9" y1="1150.6" x2="919.9" y2="1150.6" stroke="#88dcf0" stroke-width="2.2"/>
<line x1="991.6" y1="1139" x2="991.6" y2="1172.4" stroke="#88dcf0" stroke-width="2.2"/>
<line x1="980.1" y1="1139" x2="1003.1" y2="1139" stroke="#88dcf0" stroke-width="2.2"/>
<line x1="980.1" y1="1172.4" x2="1003.1" y2="1172.4" stroke="#88dcf0" stroke-width="2.2"/>
<line x1="1074.8" y1="1124.5" x2="1074.8" y2="1173" stroke="#88dcf0" stroke-width="2.2"/>
<line x1="1063.3" y1="1124.5" x2="1086.3" y2="1124.5" stroke="#88dcf0" stroke-width="2.2"/>
<line x1="1063.3" y1="1173" x2="1086.3" y2="1173" stroke="#88dcf0" stroke-width="2.2"/>
<line x1="1158" y1="1091.3" x2="1158" y2="1141.2" stroke="#88dcf0" stroke-width="2.2"/>
<line x1="1146.5" y1="1091.3" x2="1169.5" y2="1091.3" stroke="#88dcf0" stroke-width="2.2"/>
<line x1="1146.5" y1="1141.2" x2="1169.5" y2="1141.2" stroke="#88dcf0" stroke-width="2.2"/>
<polyline points="825.2,1046.1 908.4,1102 991.6,1189.8 1074.8,1175.7 1158,1105.4" fill="none" stroke="#ee2c1c" stroke-width="2.5" stroke-linejoin="round"/>
<polyline points="825.2,1038.4 908.4,1063.5 991.6,1131.2 1074.8,1164 1158,1182.4" fill="none" stroke="#1212d2" stroke-width="2.5" stroke-linejoin="round"/>
<polyline points="825.2,999.9 908.4,1120.5 991.6,1143.2 1074.8,1160.6 1158,1154.6" fill="none" stroke="#e04a62" stroke-width="2.5" stroke-linejoin="round"/>
<polyline points="825.2,975.8 908.4,1126.5 991.6,1155.6 1074.8,1148.9 1158,1116.1" fill="none" stroke="#88dcf0" stroke-width="2.5" stroke-linejoin="round"/>
<circle cx="825.2" cy="1046.1" r="10" fill="#fff" stroke="#ee2c1c" stroke-width="2.6"/>
<circle cx="908.4" cy="1102" r="10" fill="#fff" stroke="#ee2c1c" stroke-width="2.6"/>
<circle cx="991.6" cy="1189.8" r="10" fill="#fff" stroke="#ee2c1c" stroke-width="2.6"/>
<circle cx="1074.8" cy="1175.7" r="10" fill="#fff" stroke="#ee2c1c" stroke-width="2.6"/>
<circle cx="1158" cy="1105.4" r="10" fill="#fff" stroke="#ee2c1c" stroke-width="2.6"/>
<circle cx="825.2" cy="1038.4" r="10" fill="#fff" stroke="#1212d2" stroke-width="2.6"/>
<circle cx="908.4" cy="1063.5" r="10" fill="#fff" stroke="#1212d2" stroke-width="2.6"/>
<circle cx="991.6" cy="1131.2" r="10" fill="#fff" stroke="#1212d2" stroke-width="2.6"/>
<circle cx="1074.8" cy="1164" r="10" fill="#fff" stroke="#1212d2" stroke-width="2.6"/>
<circle cx="1158" cy="1182.4" r="10" fill="#fff" stroke="#1212d2" stroke-width="2.6"/>
<circle cx="825.2" cy="999.9" r="11.8" fill="#e04a62"/>
<circle cx="908.4" cy="1120.5" r="11.8" fill="#e04a62"/>
<circle cx="991.6" cy="1143.2" r="11.8" fill="#e04a62"/>
<circle cx="1074.8" cy="1160.6" r="11.8" fill="#e04a62"/>
<circle cx="1158" cy="1154.6" r="11.8" fill="#e04a62"/>
<circle cx="825.2" cy="975.8" r="11.8" fill="#88dcf0"/>
<circle cx="908.4" cy="1126.5" r="11.8" fill="#88dcf0"/>
<circle cx="991.6" cy="1155.6" r="11.8" fill="#88dcf0"/>
<circle cx="1074.8" cy="1148.9" r="11.8" fill="#88dcf0"/>
<circle cx="1158" cy="1116.1" r="11.8" fill="#88dcf0"/>
<line x1="823.5" y1="782.3" x2="848.5" y2="782.3" stroke="#1212d2" stroke-width="2.2"/>
<circle cx="836" cy="782.3" r="8" fill="#fff" stroke="#1212d2" stroke-width="2"/>
<text x="856" y="791.5" font-size="31.5">saline (10)</text>
<line x1="823.5" y1="810.8" x2="848.5" y2="810.8" stroke="#ee2c1c" stroke-width="2.2"/>
<circle cx="836" cy="810.8" r="8" fill="#fff" stroke="#ee2c1c" stroke-width="2"/>
<text x="856" y="820.5" font-size="31.5">IL-1β (10)</text>
<line x1="823.5" y1="845.2" x2="848.5" y2="845.2" stroke="#88dcf0" stroke-width="2.2"/>
<circle cx="836" cy="845.2" r="9.5" fill="#88dcf0"/>
<text x="856" y="855" font-size="31.5">saline (11)</text>
<line x1="823.5" y1="874.4" x2="848.5" y2="874.4" stroke="#e04a62" stroke-width="2.2"/>
<circle cx="836" cy="874.4" r="9.5" fill="#e04a62"/>
<text x="856" y="884" font-size="31.5">IL-1β (13)</text>
<line x1="1010" y1="775.6" x2="1010" y2="822.5" stroke="#000" stroke-width="2.4"/>
<line x1="1010" y1="840.9" x2="1010" y2="888.4" stroke="#000" stroke-width="2.4"/>
<text x="1023.5" y="809.8" font-size="31.5" font-style="italic">Il1r1<tspan dy="-8.5" font-size="31.5">fl/flCre-</tspan></text>
<text x="1023.5" y="871.8" font-size="31.5" font-style="italic">Il1r1<tspan dy="-8.5" font-size="31.5">fl/flCre+</tspan></text>
<text x="1256" y="697.5" font-size="61" font-weight="bold">f</text>
<line x1="1342.5" y1="823.5" x2="1342.5" y2="1255.1" stroke="#000" stroke-width="2.2"/>
<line x1="1335.7" y1="1254.1" x2="1754.1" y2="1254.1" stroke="#000" stroke-width="2.2"/>
<line x1="1335.5" y1="1254.1" x2="1342.5" y2="1254.1" stroke="#000" stroke-width="2.2"/>
<text x="1330" y="1264.5" font-size="30" text-anchor="end">0</text>
<line x1="1335.5" y1="1110.9" x2="1342.5" y2="1110.9" stroke="#000" stroke-width="2.2"/>
<text x="1330" y="1121" font-size="30" text-anchor="end">2</text>
<line x1="1335.5" y1="967.7" x2="1342.5" y2="967.7" stroke="#000" stroke-width="2.2"/>
<text x="1330" y="977" font-size="30" text-anchor="end">4</text>
<line x1="1335.5" y1="824.5" x2="1342.5" y2="824.5" stroke="#000" stroke-width="2.2"/>
<text x="1330" y="828" font-size="30" text-anchor="end">6</text>
<text x="1282.5" y="1034.4" font-size="31" text-anchor="middle" transform="rotate(-90 1282.5 1034.4)">visits of holes (#)</text>
<rect x="1364.5" y="926.25" width="35.7" height="327.85" fill="#2a14f7" stroke="#000" stroke-width="2.2"/>
<rect x="1403.9" y="1148.6" width="35.7" height="105.5" fill="#c8c8c8" stroke="#000" stroke-width="2.2"/>
<rect x="1462.05" y="1057.2" width="35.7" height="196.9" fill="#fa2a10" stroke="#000" stroke-width="2.2"/>
<rect x="1501.85" y="1172.3" width="35.7" height="81.8" fill="#c8c8c8" stroke="#000" stroke-width="2.2"/>
<rect x="1559.75" y="951.7" width="35.7" height="302.4" fill="#8ce0f4" stroke="#000" stroke-width="2.2"/>
<rect x="1599.3" y="1165" width="35.7" height="89.1" fill="#c8c8c8" stroke="#000" stroke-width="2.2"/>
<rect x="1657.45" y="881.25" width="35.7" height="372.85" fill="#e04a62" stroke="#000" stroke-width="2.2"/>
<rect x="1697.45" y="1186.1" width="35.7" height="68" fill="#c8c8c8" stroke="#000" stroke-width="2.2"/>
<line x1="1382.35" y1="884.25" x2="1382.35" y2="968.25" stroke="#000" stroke-width="2.2"/>
<line x1="1372.35" y1="884.25" x2="1392.35" y2="884.25" stroke="#000" stroke-width="2.2"/>
<line x1="1372.35" y1="968.25" x2="1392.35" y2="968.25" stroke="#000" stroke-width="2.2"/>
<line x1="1421.75" y1="1137.2" x2="1421.75" y2="1155.9" stroke="#000" stroke-width="2.2"/>
<line x1="1411.75" y1="1137.2" x2="1431.75" y2="1137.2" stroke="#000" stroke-width="2.2"/>
<line x1="1411.75" y1="1155.9" x2="1431.75" y2="1155.9" stroke="#000" stroke-width="2.2"/>
<line x1="1479.9" y1="1033.2" x2="1479.9" y2="1078.3" stroke="#000" stroke-width="2.2"/>
<line x1="1469.9" y1="1033.2" x2="1489.9" y2="1033.2" stroke="#000" stroke-width="2.2"/>
<line x1="1469.9" y1="1078.3" x2="1489.9" y2="1078.3" stroke="#000" stroke-width="2.2"/>
<line x1="1519.7" y1="1154.7" x2="1519.7" y2="1185.5" stroke="#000" stroke-width="2.2"/>
<line x1="1509.7" y1="1154.7" x2="1529.7" y2="1154.7" stroke="#000" stroke-width="2.2"/>
<line x1="1509.7" y1="1185.5" x2="1529.7" y2="1185.5" stroke="#000" stroke-width="2.2"/>
<line x1="1577.6" y1="918.75" x2="1577.6" y2="980.1" stroke="#000" stroke-width="2.2"/>
<line x1="1567.6" y1="918.75" x2="1587.6" y2="918.75" stroke="#000" stroke-width="2.2"/>
<line x1="1567.6" y1="980.1" x2="1587.6" y2="980.1" stroke="#000" stroke-width="2.2"/>
<line x1="1617.15" y1="1155.3" x2="1617.15" y2="1171.4" stroke="#000" stroke-width="2.2"/>
<line x1="1607.15" y1="1155.3" x2="1627.15" y2="1155.3" stroke="#000" stroke-width="2.2"/>
<line x1="1607.15" y1="1171.4" x2="1627.15" y2="1171.4" stroke="#000" stroke-width="2.2"/>
<line x1="1675.3" y1="848.75" x2="1675.3" y2="910" stroke="#000" stroke-width="2.2"/>
<line x1="1665.3" y1="848.75" x2="1685.3" y2="848.75" stroke="#000" stroke-width="2.2"/>
<line x1="1665.3" y1="910" x2="1685.3" y2="910" stroke="#000" stroke-width="2.2"/>
<line x1="1715.3" y1="1177.9" x2="1715.3" y2="1190.5" stroke="#000" stroke-width="2.2"/>
<line x1="1705.3" y1="1177.9" x2="1725.3" y2="1177.9" stroke="#000" stroke-width="2.2"/>
<line x1="1705.3" y1="1190.5" x2="1725.3" y2="1190.5" stroke="#000" stroke-width="2.2"/>
<circle cx="1381.75" cy="752.9" r="6.9" fill="#fff" stroke="#000" stroke-width="1.9"/>
<circle cx="1369.25" cy="824.5" r="6.9" fill="#fff" stroke="#000" stroke-width="1.9"/>
<circle cx="1381.75" cy="824.5" r="6.9" fill="#fff" stroke="#000" stroke-width="1.9"/>
<circle cx="1395" cy="824.5" r="6.9" fill="#fff" stroke="#000" stroke-width="1.9"/>
<circle cx="1381.75" cy="896.1" r="6.9" fill="#fff" stroke="#000" stroke-width="1.9"/>
<circle cx="1369.7" cy="967.7" r="6.9" fill="#fff" stroke="#000" stroke-width="1.9"/>
<circle cx="1382.3" cy="967.7" r="6.9" fill="#fff" stroke="#000" stroke-width="1.9"/>
<circle cx="1395.2" cy="967.7" r="6.9" fill="#fff" stroke="#000" stroke-width="1.9"/>
<circle cx="1382.3" cy="1039.3" r="6.9" fill="#fff" stroke="#000" stroke-width="1.9"/>
<circle cx="1382.3" cy="1182.5" r="6.9" fill="#fff" stroke="#000" stroke-width="1.9"/>
<circle cx="1475.8" cy="967.7" r="6.9" fill="#fff" stroke="#000" stroke-width="1.9"/>
<circle cx="1484" cy="967.7" r="6.9" fill="#fff" stroke="#000" stroke-width="1.9"/>
<circle cx="1467" cy="1039.3" r="6.9" fill="#fff" stroke="#000" stroke-width="1.9"/>
<circle cx="1475.8" cy="1039.3" r="6.9" fill="#fff" stroke="#000" stroke-width="1.9"/>
<circle cx="1484" cy="1039.3" r="6.9" fill="#fff" stroke="#000" stroke-width="1.9"/>
<circle cx="1493.4" cy="1039.3" r="6.9" fill="#fff" stroke="#000" stroke-width="1.9"/>
<circle cx="1475.8" cy="1110.9" r="6.9" fill="#fff" stroke="#000" stroke-width="1.9"/>
<circle cx="1484.6" cy="1110.9" r="6.9" fill="#fff" stroke="#000" stroke-width="1.9"/>
<circle cx="1479.6" cy="1182.5" r="6.9" fill="#fff" stroke="#000" stroke-width="1.9"/>
<circle cx="1577.5" cy="752.9" r="6.9" fill="#fff" stroke="#000" stroke-width="1.9"/>
<circle cx="1572.5" cy="824.5" r="6.9" fill="#fff" stroke="#000" stroke-width="1.9"/>
<circle cx="1583.75" cy="824.5" r="6.9" fill="#fff" stroke="#000" stroke-width="1.9"/>
<circle cx="1577.5" cy="896.1" r="6.9" fill="#fff" stroke="#000" stroke-width="1.9"/>
<circle cx="1565.1" cy="967.7" r="6.9" fill="#fff" stroke="#000" stroke-width="1.9"/>
<circle cx="1573.9" cy="967.7" r="6.9" fill="#fff" stroke="#000" stroke-width="1.9"/>
<circle cx="1582.7" cy="967.7" r="6.9" fill="#fff" stroke="#000" stroke-width="1.9"/>
<circle cx="1590.9" cy="967.7" r="6.9" fill="#fff" stroke="#000" stroke-width="1.9"/>
<circle cx="1569" cy="1039.3" r="6.9" fill="#fff" stroke="#000" stroke-width="1.9"/>
<circle cx="1577.7" cy="1039.3" r="6.9" fill="#fff" stroke="#000" stroke-width="1.9"/>
<circle cx="1586.5" cy="1039.3" r="6.9" fill="#fff" stroke="#000" stroke-width="1.9"/>
<circle cx="1577.7" cy="1110.9" r="6.9" fill="#fff" stroke="#000" stroke-width="1.9"/>
<circle cx="1666.25" cy="752.9" r="6.9" fill="#fff" stroke="#000" stroke-width="1.9"/>
<circle cx="1675" cy="752.9" r="6.9" fill="#fff" stroke="#000" stroke-width="1.9"/>
<circle cx="1683.75" cy="752.9" r="6.9" fill="#fff" stroke="#000" stroke-width="1.9"/>
<circle cx="1661.6" cy="824.5" r="6.9" fill="#fff" stroke="#000" stroke-width="1.9"/>
<circle cx="1671.1" cy="824.5" r="6.9" fill="#fff" stroke="#000" stroke-width="1.9"/>
<circle cx="1679.9" cy="824.5" r="6.9" fill="#fff" stroke="#000" stroke-width="1.9"/>
<circle cx="1688.6" cy="824.5" r="6.9" fill="#fff" stroke="#000" stroke-width="1.9"/>
<circle cx="1670.4" cy="896.1" r="6.9" fill="#fff" stroke="#000" stroke-width="1.9"/>
<circle cx="1679.9" cy="896.1" r="6.9" fill="#fff" stroke="#000" stroke-width="1.9"/>
<circle cx="1675.6" cy="967.7" r="6.9" fill="#fff" stroke="#000" stroke-width="1.9"/>
<circle cx="1666.8" cy="1039.3" r="6.9" fill="#fff" stroke="#000" stroke-width="1.9"/>
<circle cx="1675.6" cy="1039.3" r="6.9" fill="#fff" stroke="#000" stroke-width="1.9"/>
<circle cx="1684.4" cy="1039.3" r="6.9" fill="#fff" stroke="#000" stroke-width="1.9"/>
<text x="1382.35" y="1241.8" font-size="29.5" text-anchor="middle" fill="#fff">10</text>
<text x="1479.9" y="1241.8" font-size="29.5" text-anchor="middle" fill="#fff">10</text>
<text x="1577.6" y="1241.8" font-size="29.5" text-anchor="middle">11</text>
<text x="1675.3" y="1241.8" font-size="29.5" text-anchor="middle" fill="#fff">13</text>
<text x="1367.35" y="1271" font-size="31" transform="rotate(45 1367.35 1271)">target</text>
<text x="1414.85" y="1272.5" font-size="31" transform="rotate(45 1414.85 1272.5)">other</text>
<text x="1464.9" y="1271" font-size="31" transform="rotate(45 1464.9 1271)">target</text>
<text x="1512.4" y="1272.5" font-size="31" transform="rotate(45 1512.4 1272.5)">other</text>
<text x="1562.6" y="1271" font-size="31" transform="rotate(45 1562.6 1271)">target</text>
<text x="1610.1" y="1272.5" font-size="31" transform="rotate(45 1610.1 1272.5)">other</text>
<text x="1660.3" y="1271" font-size="31" transform="rotate(45 1660.3 1271)">target</text>
<text x="1707.8" y="1272.5" font-size="31" transform="rotate(45 1707.8 1272.5)">other</text>
<line x1="1365" y1="1342.8" x2="1534.4" y2="1342.8" stroke="#000" stroke-width="2"/>
<line x1="1563.7" y1="1342.8" x2="1733" y2="1342.8" stroke="#000" stroke-width="2"/>
<text x="1389" y="1386" font-size="31.5" font-style="italic">Il1r1<tspan dy="-9" font-size="31.5">fl/flCre-</tspan></text>
<text x="1560.5" y="1386" font-size="31.5" font-style="italic">Il1r1<tspan dy="-9" font-size="31.5">fl/flCre+</tspan></text>
<line x1="1381.25" y1="708.75" x2="1675" y2="708.75" stroke="#000" stroke-width="3" stroke-dasharray="3,3.2"/>
<line x1="1381.25" y1="708.75" x2="1381.25" y2="723.75" stroke="#000" stroke-width="3" stroke-dasharray="3,3.2"/>
<line x1="1578" y1="708.75" x2="1578" y2="718.75" stroke="#000" stroke-width="3" stroke-dasharray="3,3.2"/>
<line x1="1675" y1="708.75" x2="1675" y2="723.75" stroke="#000" stroke-width="3" stroke-dasharray="3,3.2"/>
<text x="1524.5" y="698.75" font-size="31.5">ns</text>
<text x="1329.5" y="741.25" font-size="25">p&lt;0.0001</text>
<text x="1524" y="741" font-size="25">p&lt;0.0001</text>
<text x="1631.5" y="737.5" font-size="25">p&lt;0.0001</text>
<text x="1377.5" y="780" font-size="25">p=0.0127</text>
<line x1="1381.25" y1="787" x2="1480.5" y2="787" stroke="#000" stroke-width="3" stroke-dasharray="3,3.2"/>
<line x1="1381.25" y1="787" x2="1381.25" y2="815" stroke="#000" stroke-width="3" stroke-dasharray="3,3.2"/>
<line x1="1480.5" y1="787" x2="1480.5" y2="883.75" stroke="#000" stroke-width="3" stroke-dasharray="3,3.2"/>
<text x="1463.5" y="912.5" font-size="31.5">ns</text>
<rect x="1681.8" y="629.5" width="25.5" height="27" fill="#2a14f7" stroke="#000" stroke-width="1.8"/>
<rect x="1712.3" y="629.5" width="25.5" height="27" fill="#8ce0f4" stroke="#000" stroke-width="1.8"/>
<rect x="1681.8" y="671.4" width="25.5" height="27" fill="#fa2a10" stroke="#000" stroke-width="1.8"/>
<rect x="1712.3" y="671.4" width="25.5" height="27" fill="#e04a62" stroke="#000" stroke-width="1.8"/>
<text x="1741" y="655.3" font-size="31.5">saline</text>
<text x="1741" y="698" font-size="31.5">IL-1β</text>
<text x="2" y="1442" font-size="61" font-weight="bold">g</text>
<line x1="115.5" y1="1432.75" x2="115.5" y2="1982.5" stroke="#000" stroke-width="2.2"/>
<line x1="105.5" y1="1981.5" x2="1079.2" y2="1981.5" stroke="#000" stroke-width="2.2"/>
<line x1="106" y1="1981.5" x2="115.5" y2="1981.5" stroke="#000" stroke-width="2.2"/>
<text x="101.5" y="1992" font-size="30" text-anchor="end">0</text>
<line x1="106" y1="1871.92" x2="115.5" y2="1871.92" stroke="#000" stroke-width="2.2"/>
<text x="101.5" y="1882.42" font-size="30" text-anchor="end">20</text>
<line x1="106" y1="1762.34" x2="115.5" y2="1762.34" stroke="#000" stroke-width="2.2"/>
<text x="101.5" y="1772.84" font-size="30" text-anchor="end">40</text>
<line x1="106" y1="1652.76" x2="115.5" y2="1652.76" stroke="#000" stroke-width="2.2"/>
<text x="101.5" y="1663.26" font-size="30" text-anchor="end">60</text>
<line x1="106" y1="1543.18" x2="115.5" y2="1543.18" stroke="#000" stroke-width="2.2"/>
<text x="101.5" y="1553.68" font-size="30" text-anchor="end">80</text>
<line x1="106" y1="1433.6" x2="115.5" y2="1433.6" stroke="#000" stroke-width="2.2"/>
<text x="101.5" y="1444.1" font-size="30" text-anchor="end">100</text>
<text x="35.5" y="1703.5" font-size="31" text-anchor="middle" transform="rotate(-90 35.5 1703.5)">time in quadrant (%)</text>
<line x1="123.2" y1="1844.2" x2="1078" y2="1844.2" stroke="#000" stroke-width="3" stroke-dasharray="8.7,9.05"/>
<rect x="134.75" y="1882.7" width="31.5" height="98.8" fill="#2a14f7" stroke="#000" stroke-width="2.2"/>
<rect x="187.75" y="1686.9" width="31.5" height="294.6" fill="#2a14f7" stroke="#000" stroke-width="2.2"/>
<rect x="240.25" y="1916.3" width="31.5" height="65.2" fill="#2a14f7" stroke="#000" stroke-width="2.2"/>
<rect x="292.55" y="1919" width="31.5" height="62.5" fill="#2a14f7" stroke="#000" stroke-width="2.2"/>
<line x1="150.5" y1="1867.1" x2="150.5" y2="1899" stroke="#000" stroke-width="2.2"/>
<line x1="141.5" y1="1867.1" x2="159.5" y2="1867.1" stroke="#000" stroke-width="2.2"/>
<line x1="141.5" y1="1899" x2="159.5" y2="1899" stroke="#000" stroke-width="2.2"/>
<line x1="203.5" y1="1660" x2="203.5" y2="1709.5" stroke="#000" stroke-width="2.2"/>
<line x1="194.5" y1="1660" x2="212.5" y2="1660" stroke="#000" stroke-width="2.2"/>
<line x1="194.5" y1="1709.5" x2="212.5" y2="1709.5" stroke="#000" stroke-width="2.2"/>
<line x1="256" y1="1900" x2="256" y2="1927.7" stroke="#000" stroke-width="2.2"/>
<line x1="247" y1="1900" x2="265" y2="1900" stroke="#000" stroke-width="2.2"/>
<line x1="247" y1="1927.7" x2="265" y2="1927.7" stroke="#000" stroke-width="2.2"/>
<line x1="308.3" y1="1907" x2="308.3" y2="1929" stroke="#000" stroke-width="2.2"/>
<line x1="299.3" y1="1907" x2="317.3" y2="1907" stroke="#000" stroke-width="2.2"/>
<line x1="299.3" y1="1929" x2="317.3" y2="1929" stroke="#000" stroke-width="2.2"/>
<text x="151.5" y="2015.5" font-size="30.5" text-anchor="middle">A1</text>
<text x="204.9" y="2015.5" font-size="30.5" text-anchor="middle">T</text>
<text x="257" y="2015.5" font-size="30.5" text-anchor="middle">A2</text>
<text x="309.3" y="2015.5" font-size="30.5" text-anchor="middle">Op</text>
<rect x="380.05" y="1880.6" width="31.5" height="100.9" fill="#fa2a10" stroke="#000" stroke-width="2.2"/>
<rect x="432.25" y="1679.3" width="31.5" height="302.2" fill="#fa2a10" stroke="#000" stroke-width="2.2"/>
<rect x="485.55" y="1897.9" width="31.5" height="83.6" fill="#fa2a10" stroke="#000" stroke-width="2.2"/>
<rect x="537.85" y="1927.7" width="31.5" height="53.8" fill="#fa2a10" stroke="#000" stroke-width="2.2"/>
<line x1="395.8" y1="1859.2" x2="395.8" y2="1899" stroke="#000" stroke-width="2.2"/>
<line x1="386.8" y1="1859.2" x2="404.8" y2="1859.2" stroke="#000" stroke-width="2.2"/>
<line x1="386.8" y1="1899" x2="404.8" y2="1899" stroke="#000" stroke-width="2.2"/>
<line x1="448" y1="1643.6" x2="448" y2="1710.4" stroke="#000" stroke-width="2.2"/>
<line x1="439" y1="1643.6" x2="457" y2="1643.6" stroke="#000" stroke-width="2.2"/>
<line x1="439" y1="1710.4" x2="457" y2="1710.4" stroke="#000" stroke-width="2.2"/>
<line x1="501.3" y1="1876.5" x2="501.3" y2="1916.3" stroke="#000" stroke-width="2.2"/>
<line x1="492.3" y1="1876.5" x2="510.3" y2="1876.5" stroke="#000" stroke-width="2.2"/>
<line x1="492.3" y1="1916.3" x2="510.3" y2="1916.3" stroke="#000" stroke-width="2.2"/>
<line x1="553.6" y1="1912.8" x2="553.6" y2="1938.8" stroke="#000" stroke-width="2.2"/>
<line x1="544.6" y1="1912.8" x2="562.6" y2="1912.8" stroke="#000" stroke-width="2.2"/>
<line x1="544.6" y1="1938.8" x2="562.6" y2="1938.8" stroke="#000" stroke-width="2.2"/>
<text x="396.8" y="2015.5" font-size="30.5" text-anchor="middle">A1</text>
<text x="449.4" y="2015.5" font-size="30.5" text-anchor="middle">T</text>
<text x="502.3" y="2015.5" font-size="30.5" text-anchor="middle">A2</text>
<text x="554.6" y="2015.5" font-size="30.5" text-anchor="middle">Op</text>
<rect x="625.25" y="1900" width="31.5" height="81.5" fill="#1c42f5" fill-opacity="0.52" stroke="#000" stroke-width="2.2"/>
<rect x="677.65" y="1694.8" width="31.5" height="286.7" fill="#1c42f5" fill-opacity="0.52" stroke="#000" stroke-width="2.2"/>
<rect x="730.95" y="1895.5" width="31.5" height="86" fill="#1c42f5" fill-opacity="0.52" stroke="#000" stroke-width="2.2"/>
<rect x="783.55" y="1896.2" width="31.5" height="85.3" fill="#1c42f5" fill-opacity="0.52" stroke="#000" stroke-width="2.2"/>
<line x1="641" y1="1892" x2="641" y2="1905.2" stroke="#000" stroke-width="2.2"/>
<line x1="632" y1="1892" x2="650" y2="1892" stroke="#000" stroke-width="2.2"/>
<line x1="632" y1="1905.2" x2="650" y2="1905.2" stroke="#000" stroke-width="2.2"/>
<line x1="693.4" y1="1673.4" x2="693.4" y2="1712.1" stroke="#000" stroke-width="2.2"/>
<line x1="684.4" y1="1673.4" x2="702.4" y2="1673.4" stroke="#000" stroke-width="2.2"/>
<line x1="684.4" y1="1712.1" x2="702.4" y2="1712.1" stroke="#000" stroke-width="2.2"/>
<line x1="746.7" y1="1883.4" x2="746.7" y2="1905.9" stroke="#000" stroke-width="2.2"/>
<line x1="737.7" y1="1883.4" x2="755.7" y2="1883.4" stroke="#000" stroke-width="2.2"/>
<line x1="737.7" y1="1905.9" x2="755.7" y2="1905.9" stroke="#000" stroke-width="2.2"/>
<line x1="799.3" y1="1887" x2="799.3" y2="1904.9" stroke="#000" stroke-width="2.2"/>
<line x1="790.3" y1="1887" x2="808.3" y2="1887" stroke="#000" stroke-width="2.2"/>
<line x1="790.3" y1="1904.9" x2="808.3" y2="1904.9" stroke="#000" stroke-width="2.2"/>
<text x="642" y="2015.5" font-size="30.5" text-anchor="middle">A1</text>
<text x="694.8" y="2015.5" font-size="30.5" text-anchor="middle">T</text>
<text x="747.7" y="2015.5" font-size="30.5" text-anchor="middle">A2</text>
<text x="800.3" y="2015.5" font-size="30.5" text-anchor="middle">Op</text>
<rect x="871.05" y="1910.4" width="31.5" height="71.1" fill="#e04a62" stroke="#000" stroke-width="2.2"/>
<rect x="923.25" y="1645.7" width="31.5" height="335.8" fill="#e04a62" stroke="#000" stroke-width="2.2"/>
<rect x="976.15" y="1907" width="31.5" height="74.5" fill="#e04a62" stroke="#000" stroke-width="2.2"/>
<rect x="1028.85" y="1923.9" width="31.5" height="57.6" fill="#e04a62" stroke="#000" stroke-width="2.2"/>
<line x1="886.8" y1="1896.6" x2="886.8" y2="1919.7" stroke="#000" stroke-width="2.2"/>
<line x1="877.8" y1="1896.6" x2="895.8" y2="1896.6" stroke="#000" stroke-width="2.2"/>
<line x1="877.8" y1="1919.7" x2="895.8" y2="1919.7" stroke="#000" stroke-width="2.2"/>
<line x1="939" y1="1623.9" x2="939" y2="1663" stroke="#000" stroke-width="2.2"/>
<line x1="930" y1="1623.9" x2="948" y2="1623.9" stroke="#000" stroke-width="2.2"/>
<line x1="930" y1="1663" x2="948" y2="1663" stroke="#000" stroke-width="2.2"/>
<line x1="991.9" y1="1896.6" x2="991.9" y2="1916.3" stroke="#000" stroke-width="2.2"/>
<line x1="982.9" y1="1896.6" x2="1000.9" y2="1896.6" stroke="#000" stroke-width="2.2"/>
<line x1="982.9" y1="1916.3" x2="1000.9" y2="1916.3" stroke="#000" stroke-width="2.2"/>
<line x1="1044.6" y1="1911.1" x2="1044.6" y2="1930.1" stroke="#000" stroke-width="2.2"/>
<line x1="1035.6" y1="1911.1" x2="1053.6" y2="1911.1" stroke="#000" stroke-width="2.2"/>
<line x1="1035.6" y1="1930.1" x2="1053.6" y2="1930.1" stroke="#000" stroke-width="2.2"/>
<text x="887.8" y="2015.5" font-size="30.5" text-anchor="middle">A1</text>
<text x="940.4" y="2015.5" font-size="30.5" text-anchor="middle">T</text>
<text x="992.9" y="2015.5" font-size="30.5" text-anchor="middle">A2</text>
<text x="1045.6" y="2015.5" font-size="30.5" text-anchor="middle">Op</text>
<circle cx="150.5" cy="1809" r="4.3" fill="#fff" stroke="#000" stroke-width="1.9"/>
<circle cx="150.5" cy="1827.4" r="4.3" fill="#fff" stroke="#000" stroke-width="1.9"/>
<circle cx="150.5" cy="1854" r="4.3" fill="#fff" stroke="#000" stroke-width="1.9"/>
<circle cx="150.5" cy="1871.3" r="4.3" fill="#fff" stroke="#000" stroke-width="1.9"/>
<circle cx="137.7" cy="1890.3" r="4.3" fill="#fff" stroke="#000" stroke-width="1.9"/>
<circle cx="150.5" cy="1890.3" r="4.3" fill="#fff" stroke="#000" stroke-width="1.9"/>
<circle cx="164.3" cy="1890.3" r="4.3" fill="#fff" stroke="#000" stroke-width="1.9"/>
<circle cx="150.5" cy="1909.4" r="4.3" fill="#fff" stroke="#000" stroke-width="1.9"/>
<circle cx="157.4" cy="1929.1" r="4.3" fill="#fff" stroke="#000" stroke-width="1.9"/>
<circle cx="144.6" cy="1937.7" r="4.3" fill="#fff" stroke="#000" stroke-width="1.9"/>
<circle cx="203.25" cy="1574.25" r="4.3" fill="#fff" stroke="#000" stroke-width="1.9"/>
<circle cx="190.5" cy="1609.25" r="4.3" fill="#fff" stroke="#000" stroke-width="1.9"/>
<circle cx="216.25" cy="1601.75" r="4.3" fill="#fff" stroke="#000" stroke-width="1.9"/>
<circle cx="203.25" cy="1630.75" r="4.3" fill="#fff" stroke="#000" stroke-width="1.9"/>
<circle cx="203.25" cy="1656.25" r="4.3" fill="#fff" stroke="#000" stroke-width="1.9"/>
<circle cx="190.5" cy="1729.5" r="4.3" fill="#fff" stroke="#000" stroke-width="1.9"/>
<circle cx="216.25" cy="1732.5" r="4.3" fill="#fff" stroke="#000" stroke-width="1.9"/>
<circle cx="203.25" cy="1761.75" r="4.3" fill="#fff" stroke="#000" stroke-width="1.9"/>
<circle cx="190.5" cy="1777.5" r="4.3" fill="#fff" stroke="#000" stroke-width="1.9"/>
<circle cx="216.25" cy="1775" r="4.3" fill="#fff" stroke="#000" stroke-width="1.9"/>
<circle cx="256" cy="1843.6" r="4.3" fill="#fff" stroke="#000" stroke-width="1.9"/>
<circle cx="268.1" cy="1873.7" r="4.3" fill="#fff" stroke="#000" stroke-width="1.9"/>
<circle cx="256" cy="1878.2" r="4.3" fill="#fff" stroke="#000" stroke-width="1.9"/>
<circle cx="256" cy="1900.7" r="4.3" fill="#fff" stroke="#000" stroke-width="1.9"/>
<circle cx="268.1" cy="1900.7" r="4.3" fill="#fff" stroke="#000" stroke-width="1.9"/>
<circle cx="256" cy="1912.8" r="4.3" fill="#fff" stroke="#000" stroke-width="1.9"/>
<circle cx="256" cy="1950.2" r="4.3" fill="#fff" stroke="#000" stroke-width="1.9"/>
<circle cx="242.2" cy="1964.7" r="4.3" fill="#fff" stroke="#000" stroke-width="1.9"/>
<circle cx="256" cy="1963" r="4.3" fill="#fff" stroke="#000" stroke-width="1.9"/>
<circle cx="269.2" cy="1964.7" r="4.3" fill="#fff" stroke="#000" stroke-width="1.9"/>
<circle cx="295.1" cy="1879.3" r="4.3" fill="#fff" stroke="#000" stroke-width="1.9"/>
<circle cx="307.9" cy="1877.2" r="4.3" fill="#fff" stroke="#000" stroke-width="1.9"/>
<circle cx="321.1" cy="1880.6" r="4.3" fill="#fff" stroke="#000" stroke-width="1.9"/>
<circle cx="307.9" cy="1903.5" r="4.3" fill="#fff" stroke="#000" stroke-width="1.9"/>
<circle cx="295.1" cy="1903.5" r="4.3" fill="#fff" stroke="#000" stroke-width="1.9"/>
<circle cx="307.9" cy="1909.4" r="4.3" fill="#fff" stroke="#000" stroke-width="1.9"/>
<circle cx="321.1" cy="1936.3" r="4.3" fill="#fff" stroke="#000" stroke-width="1.9"/>
<circle cx="307.9" cy="1948.5" r="4.3" fill="#fff" stroke="#000" stroke-width="1.9"/>
<circle cx="307.9" cy="1959.5" r="4.3" fill="#fff" stroke="#000" stroke-width="1.9"/>
<circle cx="307.9" cy="1980.3" r="4.3" fill="#fff" stroke="#000" stroke-width="1.9"/>
<circle cx="395.5" cy="1754.4" r="4.3" fill="#fff" stroke="#000" stroke-width="1.9"/>
<circle cx="395.5" cy="1819.4" r="4.3" fill="#fff" stroke="#000" stroke-width="1.9"/>
<circle cx="382.3" cy="1858.5" r="4.3" fill="#fff" stroke="#000" stroke-width="1.9"/>
<circle cx="408.3" cy="1858.5" r="4.3" fill="#fff" stroke="#000" stroke-width="1.9"/>
<circle cx="382.3" cy="1884.1" r="4.3" fill="#fff" stroke="#000" stroke-width="1.9"/>
<circle cx="408.3" cy="1884.1" r="4.3" fill="#fff" stroke="#000" stroke-width="1.9"/>
<circle cx="382.3" cy="1902.4" r="4.3" fill="#fff" stroke="#000" stroke-width="1.9"/>
<circle cx="408.3" cy="1902.4" r="4.3" fill="#fff" stroke="#000" stroke-width="1.9"/>
<circle cx="395.5" cy="1949.1" r="4.3" fill="#fff" stroke="#000" stroke-width="1.9"/>
<circle cx="395.5" cy="1980.3" r="4.3" fill="#fff" stroke="#000" stroke-width="1.9"/>
<circle cx="448.1" cy="1434.3" r="4.3" fill="#fff" stroke="#000" stroke-width="1.9"/>
<circle cx="435.3" cy="1618" r="4.3" fill="#fff" stroke="#000" stroke-width="1.9"/>
<circle cx="461.2" cy="1626.3" r="4.3" fill="#fff" stroke="#000" stroke-width="1.9"/>
<circle cx="448.1" cy="1649.9" r="4.3" fill="#fff" stroke="#000" stroke-width="1.9"/>
<circle cx="448.1" cy="1667.2" r="4.3" fill="#fff" stroke="#000" stroke-width="1.9"/>
<circle cx="448.1" cy="1707" r="4.3" fill="#fff" stroke="#000" stroke-width="1.9"/>
<circle cx="448.1" cy="1726" r="4.3" fill="#fff" stroke="#000" stroke-width="1.9"/>
<circle cx="448.1" cy="1758.2" r="4.3" fill="#fff" stroke="#000" stroke-width="1.9"/>
<circle cx="448.1" cy="1771" r="4.3" fill="#fff" stroke="#000" stroke-width="1.9"/>
<circle cx="448.1" cy="1812.5" r="4.3" fill="#fff" stroke="#000" stroke-width="1.9"/>
<circle cx="500.6" cy="1762.3" r="4.3" fill="#fff" stroke="#000" stroke-width="1.9"/>
<circle cx="487.8" cy="1854" r="4.3" fill="#fff" stroke="#000" stroke-width="1.9"/>
<circle cx="514.5" cy="1854" r="4.3" fill="#fff" stroke="#000" stroke-width="1.9"/>
<circle cx="487.8" cy="1878.2" r="4.3" fill="#fff" stroke="#000" stroke-width="1.9"/>
<circle cx="514.5" cy="1881" r="4.3" fill="#fff" stroke="#000" stroke-width="1.9"/>
<circle cx="500.6" cy="1904.2" r="4.3" fill="#fff" stroke="#000" stroke-width="1.9"/>
<circle cx="500.6" cy="1935.3" r="4.3" fill="#fff" stroke="#000" stroke-width="1.9"/>
<circle cx="500.6" cy="1947.4" r="4.3" fill="#fff" stroke="#000" stroke-width="1.9"/>
<circle cx="500.6" cy="1964.7" r="4.3" fill="#fff" stroke="#000" stroke-width="1.9"/>
<circle cx="500.6" cy="1980.3" r="4.3" fill="#fff" stroke="#000" stroke-width="1.9"/>
<circle cx="553.6" cy="1841.9" r="4.3" fill="#fff" stroke="#000" stroke-width="1.9"/>
<circle cx="553.6" cy="1893.8" r="4.3" fill="#fff" stroke="#000" stroke-width="1.9"/>
<circle cx="540.4" cy="1907.6" r="4.3" fill="#fff" stroke="#000" stroke-width="1.9"/>
<circle cx="566.4" cy="1902.4" r="4.3" fill="#fff" stroke="#000" stroke-width="1.9"/>
<circle cx="540.4" cy="1931.9" r="4.3" fill="#fff" stroke="#000" stroke-width="1.9"/>
<circle cx="566.4" cy="1924.2" r="4.3" fill="#fff" stroke="#000" stroke-width="1.9"/>
<circle cx="540.4" cy="1947.4" r="4.3" fill="#fff" stroke="#000" stroke-width="1.9"/>
<circle cx="566.4" cy="1946.4" r="4.3" fill="#fff" stroke="#000" stroke-width="1.9"/>
<circle cx="540.4" cy="1980.3" r="4.3" fill="#fff" stroke="#000" stroke-width="1.9"/>
<circle cx="566.4" cy="1976.8" r="4.3" fill="#fff" stroke="#000" stroke-width="1.9"/>
<circle cx="628.37" cy="1868.53" r="4.3" fill="#fff" stroke="#000" stroke-width="1.9"/>
<circle cx="640.83" cy="1870.61" r="4.3" fill="#fff" stroke="#000" stroke-width="1.9"/>
<circle cx="653.63" cy="1877.53" r="4.3" fill="#fff" stroke="#000" stroke-width="1.9"/>
<circle cx="640.83" cy="1883.41" r="4.3" fill="#fff" stroke="#000" stroke-width="1.9"/>
<circle cx="628.37" cy="1891.37" r="4.3" fill="#fff" stroke="#000" stroke-width="1.9"/>
<circle cx="640.83" cy="1892.75" r="4.3" fill="#fff" stroke="#000" stroke-width="1.9"/>
<circle cx="653.63" cy="1892.06" r="4.3" fill="#fff" stroke="#000" stroke-width="1.9"/>
<circle cx="655.36" cy="1916.97" r="4.3" fill="#fff" stroke="#000" stroke-width="1.9"/>
<circle cx="640.83" cy="1924.23" r="4.3" fill="#fff" stroke="#000" stroke-width="1.9"/>
<circle cx="653.63" cy="1928.39" r="4.3" fill="#fff" stroke="#000" stroke-width="1.9"/>
<circle cx="628.37" cy="1933.58" r="4.3" fill="#fff" stroke="#000" stroke-width="1.9"/>
<circle cx="693.42" cy="1535.69" r="4.3" fill="#fff" stroke="#000" stroke-width="1.9"/>
<circle cx="693.42" cy="1642.95" r="4.3" fill="#fff" stroke="#000" stroke-width="1.9"/>
<circle cx="693.42" cy="1657.83" r="4.3" fill="#fff" stroke="#000" stroke-width="1.9"/>
<circle cx="693.42" cy="1677.55" r="4.3" fill="#fff" stroke="#000" stroke-width="1.9"/>
<circle cx="680.27" cy="1704.53" r="4.3" fill="#fff" stroke="#000" stroke-width="1.9"/>
<circle cx="693.42" cy="1705.23" r="4.3" fill="#fff" stroke="#000" stroke-width="1.9"/>
<circle cx="706.56" cy="1697.61" r="4.3" fill="#fff" stroke="#000" stroke-width="1.9"/>
<circle cx="693.42" cy="1723.56" r="4.3" fill="#fff" stroke="#000" stroke-width="1.9"/>
<circle cx="693.42" cy="1753.66" r="4.3" fill="#fff" stroke="#000" stroke-width="1.9"/>
<circle cx="680.27" cy="1762.31" r="4.3" fill="#fff" stroke="#000" stroke-width="1.9"/>
<circle cx="706.56" cy="1757.82" r="4.3" fill="#fff" stroke="#000" stroke-width="1.9"/>
<circle cx="746.01" cy="1794.14" r="4.3" fill="#fff" stroke="#000" stroke-width="1.9"/>
<circle cx="733.2" cy="1875.8" r="4.3" fill="#fff" stroke="#000" stroke-width="1.9"/>
<circle cx="746.01" cy="1872.34" r="4.3" fill="#fff" stroke="#000" stroke-width="1.9"/>
<circle cx="759.15" cy="1880.99" r="4.3" fill="#fff" stroke="#000" stroke-width="1.9"/>
<circle cx="746.01" cy="1885.14" r="4.3" fill="#fff" stroke="#000" stroke-width="1.9"/>
<circle cx="733.2" cy="1897.25" r="4.3" fill="#fff" stroke="#000" stroke-width="1.9"/>
<circle cx="746.01" cy="1898.29" r="4.3" fill="#fff" stroke="#000" stroke-width="1.9"/>
<circle cx="759.15" cy="1909.36" r="4.3" fill="#fff" stroke="#000" stroke-width="1.9"/>
<circle cx="746.01" cy="1953.64" r="4.3" fill="#fff" stroke="#000" stroke-width="1.9"/>
<circle cx="746.01" cy="1973.36" r="4.3" fill="#fff" stroke="#000" stroke-width="1.9"/>
<circle cx="790.29" cy="1855.04" r="4.3" fill="#fff" stroke="#000" stroke-width="1.9"/>
<circle cx="805.17" cy="1855.04" r="4.3" fill="#fff" stroke="#000" stroke-width="1.9"/>
<circle cx="798.94" cy="1863.69" r="4.3" fill="#fff" stroke="#000" stroke-width="1.9"/>
<circle cx="785.1" cy="1873.72" r="4.3" fill="#fff" stroke="#000" stroke-width="1.9"/>
<circle cx="798.94" cy="1873.03" r="4.3" fill="#fff" stroke="#000" stroke-width="1.9"/>
<circle cx="811.74" cy="1873.72" r="4.3" fill="#fff" stroke="#000" stroke-width="1.9"/>
<circle cx="798.94" cy="1885.83" r="4.3" fill="#fff" stroke="#000" stroke-width="1.9"/>
<circle cx="798.94" cy="1904.86" r="4.3" fill="#fff" stroke="#000" stroke-width="1.9"/>
<circle cx="785.1" cy="1951.91" r="4.3" fill="#fff" stroke="#000" stroke-width="1.9"/>
<circle cx="798.94" cy="1940.5" r="4.3" fill="#fff" stroke="#000" stroke-width="1.9"/>
<circle cx="811.74" cy="1943.26" r="4.3" fill="#fff" stroke="#000" stroke-width="1.9"/>
<circle cx="886.13" cy="1820.44" r="4.3" fill="#fff" stroke="#000" stroke-width="1.9"/>
<circle cx="886.13" cy="1866.11" r="4.3" fill="#fff" stroke="#000" stroke-width="1.9"/>
<circle cx="873.33" cy="1882.72" r="4.3" fill="#fff" stroke="#000" stroke-width="1.9"/>
<circle cx="899.28" cy="1877.18" r="4.3" fill="#fff" stroke="#000" stroke-width="1.9"/>
<circle cx="899.28" cy="1890.33" r="4.3" fill="#fff" stroke="#000" stroke-width="1.9"/>
<circle cx="873.33" cy="1898.98" r="4.3" fill="#fff" stroke="#000" stroke-width="1.9"/>
<circle cx="886.13" cy="1905.2" r="4.3" fill="#fff" stroke="#000" stroke-width="1.9"/>
<circle cx="899.28" cy="1916.28" r="4.3" fill="#fff" stroke="#000" stroke-width="1.9"/>
<circle cx="886.13" cy="1929.42" r="4.3" fill="#fff" stroke="#000" stroke-width="1.9"/>
<circle cx="873.33" cy="1940.5" r="4.3" fill="#fff" stroke="#000" stroke-width="1.9"/>
<circle cx="899.28" cy="1940.5" r="4.3" fill="#fff" stroke="#000" stroke-width="1.9"/>
<circle cx="873.33" cy="1966.44" r="4.3" fill="#fff" stroke="#000" stroke-width="1.9"/>
<circle cx="899.28" cy="1959.52" r="4.3" fill="#fff" stroke="#000" stroke-width="1.9"/>
<circle cx="938.37" cy="1520.12" r="4.3" fill="#fff" stroke="#000" stroke-width="1.9"/>
<circle cx="938.37" cy="1532.23" r="4.3" fill="#fff" stroke="#000" stroke-width="1.9"/>
<circle cx="938.37" cy="1589.32" r="4.3" fill="#fff" stroke="#000" stroke-width="1.9"/>
<circle cx="938.37" cy="1601.43" r="4.3" fill="#fff" stroke="#000" stroke-width="1.9"/>
<circle cx="938.37" cy="1621.5" r="4.3" fill="#fff" stroke="#000" stroke-width="1.9"/>
<circle cx="925.23" cy="1647.1" r="4.3" fill="#fff" stroke="#000" stroke-width="1.9"/>
<circle cx="938.37" cy="1648.14" r="4.3" fill="#fff" stroke="#000" stroke-width="1.9"/>
<circle cx="951.87" cy="1643.64" r="4.3" fill="#fff" stroke="#000" stroke-width="1.9"/>
<circle cx="938.37" cy="1666.48" r="4.3" fill="#fff" stroke="#000" stroke-width="1.9"/>
<circle cx="938.37" cy="1697.61" r="4.3" fill="#fff" stroke="#000" stroke-width="1.9"/>
<circle cx="938.37" cy="1728.75" r="4.3" fill="#fff" stroke="#000" stroke-width="1.9"/>
<circle cx="951.87" cy="1720.8" r="4.3" fill="#fff" stroke="#000" stroke-width="1.9"/>
<circle cx="938.37" cy="1745.01" r="4.3" fill="#fff" stroke="#000" stroke-width="1.9"/>
<circle cx="978.16" cy="1870.26" r="4.3" fill="#fff" stroke="#000" stroke-width="1.9"/>
<circle cx="990.96" cy="1872.34" r="4.3" fill="#fff" stroke="#000" stroke-width="1.9"/>
<circle cx="1004.11" cy="1868.53" r="4.3" fill="#fff" stroke="#000" stroke-width="1.9"/>
<circle cx="990.96" cy="1885.14" r="4.3" fill="#fff" stroke="#000" stroke-width="1.9"/>
<circle cx="990.96" cy="1895.52" r="4.3" fill="#fff" stroke="#000" stroke-width="1.9"/>
<circle cx="978.16" cy="1908.32" r="4.3" fill="#fff" stroke="#000" stroke-width="1.9"/>
<circle cx="1004.11" cy="1908.32" r="4.3" fill="#fff" stroke="#000" stroke-width="1.9"/>
<circle cx="990.96" cy="1912.82" r="4.3" fill="#fff" stroke="#000" stroke-width="1.9"/>
<circle cx="990.96" cy="1931.85" r="4.3" fill="#fff" stroke="#000" stroke-width="1.9"/>
<circle cx="1004.11" cy="1931.85" r="4.3" fill="#fff" stroke="#000" stroke-width="1.9"/>
<circle cx="990.96" cy="1943.96" r="4.3" fill="#fff" stroke="#000" stroke-width="1.9"/>
<circle cx="990.96" cy="1964.02" r="4.3" fill="#fff" stroke="#000" stroke-width="1.9"/>
<circle cx="1043.9" cy="1860.92" r="4.3" fill="#fff" stroke="#000" stroke-width="1.9"/>
<circle cx="1043.9" cy="1878.22" r="4.3" fill="#fff" stroke="#000" stroke-width="1.9"/>
<circle cx="1030.75" cy="1890.33" r="4.3" fill="#fff" stroke="#000" stroke-width="1.9"/>
<circle cx="1056.7" cy="1894.83" r="4.3" fill="#fff" stroke="#000" stroke-width="1.9"/>
<circle cx="1030.75" cy="1900.71" r="4.3" fill="#fff" stroke="#000" stroke-width="1.9"/>
<circle cx="1043.9" cy="1910.39" r="4.3" fill="#fff" stroke="#000" stroke-width="1.9"/>
<circle cx="1030.75" cy="1919.74" r="4.3" fill="#fff" stroke="#000" stroke-width="1.9"/>
<circle cx="1056.7" cy="1926.66" r="4.3" fill="#fff" stroke="#000" stroke-width="1.9"/>
<circle cx="1030.75" cy="1937.04" r="4.3" fill="#fff" stroke="#000" stroke-width="1.9"/>
<circle cx="1056.7" cy="1937.04" r="4.3" fill="#fff" stroke="#000" stroke-width="1.9"/>
<circle cx="1043.9" cy="1954.33" r="4.3" fill="#fff" stroke="#000" stroke-width="1.9"/>
<circle cx="1030.75" cy="1981.32" r="4.3" fill="#fff" stroke="#000" stroke-width="1.9"/>
<circle cx="1056.7" cy="1975.79" r="4.3" fill="#fff" stroke="#000" stroke-width="1.9"/>
<text x="202" y="1965.5" font-size="27" text-anchor="middle" fill="#fff">10</text>
<text x="446.5" y="1965.5" font-size="27" text-anchor="middle" fill="#fff">10</text>
<text x="691.9" y="1965.5" font-size="27" text-anchor="middle">11</text>
<text x="937.5" y="1965.5" font-size="27" text-anchor="middle" fill="#fff">13</text>
<text x="149.25" y="1545.5" font-size="25">p=0.0008</text>
<text x="397.5" y="1412.5" font-size="25">p=0.0024</text>
<text x="641.5" y="1511.5" font-size="25">p&lt;0.0001</text>
<text x="886.5" y="1489" font-size="25">p&lt;0.0001</text>
<line x1="121.1" y1="2029.6" x2="576.1" y2="2029.6" stroke="#000" stroke-width="2"/>
<line x1="614.5" y1="2029.6" x2="1071.2" y2="2029.6" stroke="#000" stroke-width="2"/>
<text x="269.5" y="2083" font-size="31.5" font-style="italic">Il1r1<tspan dy="-9" font-size="31.5">fl/flCre-</tspan></text>
<text x="758.5" y="2083" font-size="31.5" font-style="italic">Il1r1<tspan dy="-9" font-size="31.5">fl/flCre+</tspan></text>
<rect x="1009" y="1550.6" width="24.5" height="26.5" fill="#2a14f7" stroke="#000" stroke-width="1.8"/>
<rect x="1038.7" y="1550.6" width="24.5" height="26.5" fill="#8ce0f4" stroke="#000" stroke-width="1.8"/>
<rect x="1009" y="1591.7" width="24.5" height="26.5" fill="#fa2a10" stroke="#000" stroke-width="1.8"/>
<rect x="1038.7" y="1591.7" width="24.5" height="26.5" fill="#e04a62" stroke="#000" stroke-width="1.8"/>
<text x="1068.5" y="1575" font-size="31.5">saline</text>
<text x="1068.5" y="1616" font-size="31.5">IL-1 β</text>
<text x="1257" y="1443" font-size="61" font-weight="bold">h</text>
<text x="1316" y="1513" font-size="31">object location task</text>
<line x1="1351.75" y1="1620.25" x2="1351.75" y2="1982" stroke="#000" stroke-width="2.2"/>
<line x1="1340.5" y1="1981" x2="1579.25" y2="1981" stroke="#000" stroke-width="2.2"/>
<line x1="1341.25" y1="1891" x2="1351.75" y2="1891" stroke="#000" stroke-width="2.2"/>
<text x="1334.5" y="1899.5" font-size="28.5" text-anchor="end">2</text>
<line x1="1341.25" y1="1801" x2="1351.75" y2="1801" stroke="#000" stroke-width="2.2"/>
<text x="1334.5" y="1809.5" font-size="28.5" text-anchor="end">4</text>
<line x1="1341.25" y1="1711" x2="1351.75" y2="1711" stroke="#000" stroke-width="2.2"/>
<text x="1334.5" y="1719.5" font-size="28.5" text-anchor="end">6</text>
<line x1="1341.25" y1="1621" x2="1351.75" y2="1621" stroke="#000" stroke-width="2.2"/>
<text x="1334.5" y="1629.5" font-size="28.5" text-anchor="end">8</text>
<text x="1333.5" y="1988.5" font-size="28.5" text-anchor="end">0</text>
<text x="1335" y="1988.5" font-size="28.5" text-anchor="end">0</text>
<text x="1285.5" y="1789.5" font-size="31" text-anchor="middle" transform="rotate(-90 1285.5 1789.5)">total exploration time (s)</text>
<rect x="1371.25" y="1776.25" width="36.25" height="204.75" fill="#2a14f7" stroke="#000" stroke-width="2.2"/>
<rect x="1418.75" y="1803.25" width="36.25" height="177.75" fill="#fa2a10" stroke="#000" stroke-width="2.2"/>
<rect x="1475" y="1803.25" width="36.25" height="177.75" fill="#8ce0f4" stroke="#000" stroke-width="2.2"/>
<rect x="1522.5" y="1768" width="36.25" height="213" fill="#e04a62" stroke="#000" stroke-width="2.2"/>
<line x1="1389.4" y1="1733.75" x2="1389.4" y2="1816.75" stroke="#000" stroke-width="2.2"/>
<line x1="1379.9" y1="1733.75" x2="1398.9" y2="1733.75" stroke="#000" stroke-width="2.2"/>
<line x1="1379.9" y1="1816.75" x2="1398.9" y2="1816.75" stroke="#000" stroke-width="2.2"/>
<line x1="1436.9" y1="1766.75" x2="1436.9" y2="1839.75" stroke="#000" stroke-width="2.2"/>
<line x1="1427.4" y1="1766.75" x2="1446.4" y2="1766.75" stroke="#000" stroke-width="2.2"/>
<line x1="1427.4" y1="1839.75" x2="1446.4" y2="1839.75" stroke="#000" stroke-width="2.2"/>
<line x1="1493.1" y1="1774.25" x2="1493.1" y2="1831.25" stroke="#000" stroke-width="2.2"/>
<line x1="1483.6" y1="1774.25" x2="1502.6" y2="1774.25" stroke="#000" stroke-width="2.2"/>
<line x1="1483.6" y1="1831.25" x2="1502.6" y2="1831.25" stroke="#000" stroke-width="2.2"/>
<line x1="1540.6" y1="1746.25" x2="1540.6" y2="1787.5" stroke="#000" stroke-width="2.2"/>
<line x1="1531.1" y1="1746.25" x2="1550.1" y2="1746.25" stroke="#000" stroke-width="2.2"/>
<line x1="1531.1" y1="1787.5" x2="1550.1" y2="1787.5" stroke="#000" stroke-width="2.2"/>
<circle cx="1389.25" cy="1747.5" r="4.7" fill="#fff" stroke="#000" stroke-width="1.9"/>
<circle cx="1375.75" cy="1791" r="4.7" fill="#fff" stroke="#000" stroke-width="1.9"/>
<circle cx="1403" cy="1795.75" r="4.7" fill="#fff" stroke="#000" stroke-width="1.9"/>
<circle cx="1389.25" cy="1798.5" r="4.7" fill="#fff" stroke="#000" stroke-width="1.9"/>
<circle cx="1389.25" cy="1815.5" r="4.7" fill="#fff" stroke="#000" stroke-width="1.9"/>
<circle cx="1389.25" cy="1858" r="4.7" fill="#fff" stroke="#000" stroke-width="1.9"/>
<circle cx="1389.25" cy="1890" r="4.7" fill="#fff" stroke="#000" stroke-width="1.9"/>
<circle cx="1436.75" cy="1736" r="4.7" fill="#fff" stroke="#000" stroke-width="1.9"/>
<circle cx="1436.75" cy="1810" r="4.7" fill="#fff" stroke="#000" stroke-width="1.9"/>
<circle cx="1423.25" cy="1832.5" r="4.7" fill="#fff" stroke="#000" stroke-width="1.9"/>
<circle cx="1450" cy="1831.75" r="4.7" fill="#fff" stroke="#000" stroke-width="1.9"/>
<circle cx="1436.75" cy="1837" r="4.7" fill="#fff" stroke="#000" stroke-width="1.9"/>
<circle cx="1423.25" cy="1844.5" r="4.7" fill="#fff" stroke="#000" stroke-width="1.9"/>
<circle cx="1450" cy="1845.75" r="4.7" fill="#fff" stroke="#000" stroke-width="1.9"/>
<circle cx="1436.75" cy="1850" r="4.7" fill="#fff" stroke="#000" stroke-width="1.9"/>
<circle cx="1430" cy="1885" r="4.7" fill="#fff" stroke="#000" stroke-width="1.9"/>
<circle cx="1443" cy="1882" r="4.7" fill="#fff" stroke="#000" stroke-width="1.9"/>
<circle cx="1436.75" cy="1916.25" r="4.7" fill="#fff" stroke="#000" stroke-width="1.9"/>
<circle cx="1436.75" cy="1945.75" r="4.7" fill="#fff" stroke="#000" stroke-width="1.9"/>
<circle cx="1493.25" cy="1697" r="4.7" fill="#fff" stroke="#000" stroke-width="1.9"/>
<circle cx="1493.25" cy="1754.5" r="4.7" fill="#fff" stroke="#000" stroke-width="1.9"/>
<circle cx="1480" cy="1812.5" r="4.7" fill="#fff" stroke="#000" stroke-width="1.9"/>
<circle cx="1507" cy="1813.75" r="4.7" fill="#fff" stroke="#000" stroke-width="1.9"/>
<circle cx="1480" cy="1823.75" r="4.7" fill="#fff" stroke="#000" stroke-width="1.9"/>
<circle cx="1480" cy="1855" r="4.7" fill="#fff" stroke="#000" stroke-width="1.9"/>
<circle cx="1507" cy="1852.5" r="4.7" fill="#fff" stroke="#000" stroke-width="1.9"/>
<circle cx="1493.25" cy="1882" r="4.7" fill="#fff" stroke="#000" stroke-width="1.9"/>
<circle cx="1493.25" cy="1919.5" r="4.7" fill="#fff" stroke="#000" stroke-width="1.9"/>
<circle cx="1540" cy="1648.75" r="4.7" fill="#fff" stroke="#000" stroke-width="1.9"/>
<circle cx="1540" cy="1677.5" r="4.7" fill="#fff" stroke="#000" stroke-width="1.9"/>
<circle cx="1535.75" cy="1760" r="4.7" fill="#fff" stroke="#000" stroke-width="1.9"/>
<circle cx="1544.5" cy="1761.25" r="4.7" fill="#fff" stroke="#000" stroke-width="1.9"/>
<circle cx="1544.5" cy="1790.5" r="4.7" fill="#fff" stroke="#000" stroke-width="1.9"/>
<circle cx="1535.75" cy="1801.25" r="4.7" fill="#fff" stroke="#000" stroke-width="1.9"/>
<circle cx="1544.5" cy="1803" r="4.7" fill="#fff" stroke="#000" stroke-width="1.9"/>
<circle cx="1554.5" cy="1806.25" r="4.7" fill="#fff" stroke="#000" stroke-width="1.9"/>
<circle cx="1526.25" cy="1811.25" r="4.7" fill="#fff" stroke="#000" stroke-width="1.9"/>
<circle cx="1535.75" cy="1815.5" r="4.7" fill="#fff" stroke="#000" stroke-width="1.9"/>
<circle cx="1544.5" cy="1814.5" r="4.7" fill="#fff" stroke="#000" stroke-width="1.9"/>
<circle cx="1554.5" cy="1822" r="4.7" fill="#fff" stroke="#000" stroke-width="1.9"/>
<circle cx="1540" cy="1845.75" r="4.7" fill="#fff" stroke="#000" stroke-width="1.9"/>
<text x="1389.38" y="1972.5" font-size="25.5" text-anchor="middle" fill="#fff">8</text>
<text x="1436.88" y="1972.5" font-size="25.5" text-anchor="middle" fill="#fff">13</text>
<text x="1493.12" y="1972.5" font-size="25.5" text-anchor="middle">10</text>
<text x="1540.62" y="1972.5" font-size="25.5" text-anchor="middle" fill="#fff">14</text>
<line x1="1389.25" y1="1615.5" x2="1537.5" y2="1615.5" stroke="#000" stroke-width="3" stroke-dasharray="3,3.2"/>
<line x1="1389.25" y1="1615.5" x2="1389.25" y2="1732.5" stroke="#000" stroke-width="3" stroke-dasharray="3,3.2"/>
<line x1="1436.75" y1="1615.5" x2="1436.75" y2="1726.25" stroke="#000" stroke-width="3" stroke-dasharray="3,3.2"/>
<line x1="1493.75" y1="1615.5" x2="1493.75" y2="1690" stroke="#000" stroke-width="3" stroke-dasharray="3,3.2"/>
<line x1="1538" y1="1615.5" x2="1538" y2="1642.5" stroke="#000" stroke-width="3" stroke-dasharray="3,3.2"/>
<text x="1450.5" y="1602.5" font-size="31.5">ns</text>
<line x1="1365.75" y1="1998.4" x2="1466.25" y2="1998.4" stroke="#000" stroke-width="2.6"/>
<line x1="1474.5" y1="1998.4" x2="1561.5" y2="1998.4" stroke="#000" stroke-width="2.6"/>
<text x="1404" y="2025" font-size="31.5" font-style="italic" transform="rotate(24 1404 2025)">Il1r1fl/flCre-</text>
<text x="1500" y="2025" font-size="31.5" font-style="italic" transform="rotate(24 1500 2025)">Il1r1fl/flCre+</text>
<rect x="1565" y="1540.75" width="25.5" height="26.8" fill="#2a14f7" stroke="#000" stroke-width="1.8"/>
<rect x="1595" y="1540.75" width="25.5" height="26.8" fill="#8ce0f4" stroke="#000" stroke-width="1.8"/>
<rect x="1565" y="1582" width="25.5" height="26.8" fill="#fa2a10" stroke="#000" stroke-width="1.8"/>
<rect x="1595" y="1582" width="25.5" height="26.8" fill="#e04a62" stroke="#000" stroke-width="1.8"/>
<text x="1629" y="1566" font-size="31.5">saline</text>
<text x="1629" y="1608" font-size="31.5">IL-1β</text>
</svg>
</body></html>
